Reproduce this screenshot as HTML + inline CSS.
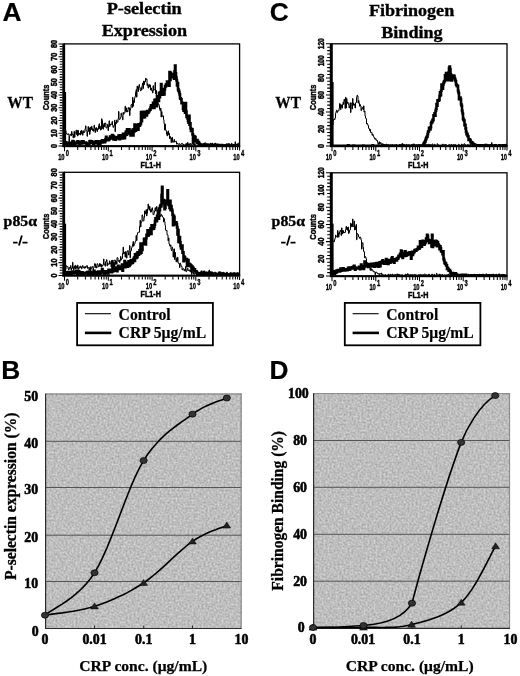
<!DOCTYPE html>
<html><head><meta charset="utf-8"><style>
html,body{margin:0;padding:0;background:#fff;}
svg{display:block;filter:grayscale(1);}
</style></head><body>
<svg width="520" height="676" viewBox="0 0 520 676">
<defs>
<filter id="nz" x="0" y="0" width="100%" height="100%" color-interpolation-filters="sRGB"><feTurbulence type="fractalNoise" baseFrequency="0.5" numOctaves="2" seed="3"/><feColorMatrix type="matrix" values="0.32 0 0 0 0.585  0.32 0 0 0 0.585  0.32 0 0 0 0.585  0 0 0 0 1"/></filter>
</defs>
<rect width="520" height="676" fill="#fff"/>
<text x="2.5" y="20.6" font-family='"Liberation Sans", sans-serif' font-size="26.3" font-weight="bold" text-anchor="start" fill="#000"  stroke="#000" stroke-width="0.2">A</text>
<text x="269.8" y="20.7" font-family='"Liberation Sans", sans-serif' font-size="26.3" font-weight="bold" text-anchor="start" fill="#000"  stroke="#000" stroke-width="0.2">C</text>
<text x="1.3" y="378.6" font-family='"Liberation Sans", sans-serif' font-size="26.3" font-weight="bold" text-anchor="start" fill="#000"  stroke="#000" stroke-width="0.2">B</text>
<text x="269.4" y="378.6" font-family='"Liberation Sans", sans-serif' font-size="26.3" font-weight="bold" text-anchor="start" fill="#000"  stroke="#000" stroke-width="0.2">D</text>
<text x="106.7" y="14.3" font-family='"Liberation Serif", serif' font-size="17.6" font-weight="bold" text-anchor="start" fill="#000"  textLength="75.0" lengthAdjust="spacingAndGlyphs" stroke="#000" stroke-width="0.35">P-selectin</text>
<text x="101.7" y="36.3" font-family='"Liberation Serif", serif' font-size="17.6" font-weight="bold" text-anchor="start" fill="#000"  textLength="85.4" lengthAdjust="spacingAndGlyphs" stroke="#000" stroke-width="0.35">Expression</text>
<text x="368.9" y="15.6" font-family='"Liberation Serif", serif' font-size="17.6" font-weight="bold" text-anchor="start" fill="#000"  textLength="85.3" lengthAdjust="spacingAndGlyphs" stroke="#000" stroke-width="0.35">Fibrinogen</text>
<text x="381.2" y="37.8" font-family='"Liberation Serif", serif' font-size="17.6" font-weight="bold" text-anchor="start" fill="#000"  textLength="61.5" lengthAdjust="spacingAndGlyphs" stroke="#000" stroke-width="0.35">Binding</text>
<text x="7.3" y="107.6" font-family='"Liberation Serif", serif' font-size="17" font-weight="bold" text-anchor="start" fill="#000"  textLength="25.6" lengthAdjust="spacingAndGlyphs" stroke="#000" stroke-width="0.3">WT</text>
<text x="3.6" y="226.2" font-family='"Liberation Serif", serif' font-size="15.3" font-weight="bold" text-anchor="start" fill="#000"  textLength="33.4" lengthAdjust="spacingAndGlyphs" stroke="#000" stroke-width="0.35">p85α</text>
<path d="M13.1,242.6H17.6M22.5,242.6H27.5" stroke="#000" stroke-width="1.6"/>
<path d="M21.9,235.4L18.9,245.5" stroke="#000" stroke-width="1.8"/>
<text x="275.3" y="107.6" font-family='"Liberation Serif", serif' font-size="17" font-weight="bold" text-anchor="start" fill="#000"  textLength="25.6" lengthAdjust="spacingAndGlyphs" stroke="#000" stroke-width="0.3">WT</text>
<text x="271.6" y="226.2" font-family='"Liberation Serif", serif' font-size="15.3" font-weight="bold" text-anchor="start" fill="#000"  textLength="33.4" lengthAdjust="spacingAndGlyphs" stroke="#000" stroke-width="0.35">p85α</text>
<path d="M281.1,242.6H285.6M290.5,242.6H295.5" stroke="#000" stroke-width="1.6"/>
<path d="M289.9,235.4L286.9,245.5" stroke="#000" stroke-width="1.8"/>
<rect x="64.5" y="43.9" width="175.1" height="102.1" fill="none" stroke="#000" stroke-width="1.3"/>
<rect x="62.3" y="43.3" width="2.6" height="103.69999999999999" fill="#000"/>
<rect x="62.5" y="145.2" width="177.7" height="2" fill="#000"/>
<rect x="64.5" y="92" width="1.6" height="54" fill="#000"/>
<path d="M58.5,146.0H62.5M59.7,143.4H62.5M59.7,140.9H62.5M59.7,138.3H62.5M59.7,135.8H62.5M58.5,133.2H62.5M59.7,130.7H62.5M59.7,128.1H62.5M59.7,125.6H62.5M59.7,123.0H62.5M58.5,120.5H62.5M59.7,117.9H62.5M59.7,115.4H62.5M59.7,112.8H62.5M59.7,110.3H62.5M58.5,107.7H62.5M59.7,105.2H62.5M59.7,102.6H62.5M59.7,100.1H62.5M59.7,97.5H62.5M58.5,95.0H62.5M59.7,92.4H62.5M59.7,89.8H62.5M59.7,87.3H62.5M59.7,84.7H62.5M58.5,82.2H62.5M59.7,79.6H62.5M59.7,77.1H62.5M59.7,74.5H62.5M59.7,72.0H62.5M58.5,69.4H62.5M59.7,66.9H62.5M59.7,64.3H62.5M59.7,61.8H62.5M59.7,59.2H62.5M58.5,56.7H62.5M59.7,54.1H62.5M59.7,51.6H62.5M59.7,49.0H62.5M59.7,46.5H62.5M58.5,43.9H62.5" stroke="#000" stroke-width="1.05" fill="none"/>
<text x="0" y="0" transform="translate(57.3,146.0) rotate(-90) scale(0.9,1)" font-family='"Liberation Sans", sans-serif' font-size="8.2" font-weight="bold" text-anchor="middle" fill="#000"  stroke="#000" stroke-width="0.45">0</text>
<text x="0" y="0" transform="translate(57.3,133.2375) rotate(-90) scale(0.9,1)" font-family='"Liberation Sans", sans-serif' font-size="8.2" font-weight="bold" text-anchor="middle" fill="#000"  stroke="#000" stroke-width="0.45">10</text>
<text x="0" y="0" transform="translate(57.3,120.475) rotate(-90) scale(0.9,1)" font-family='"Liberation Sans", sans-serif' font-size="8.2" font-weight="bold" text-anchor="middle" fill="#000"  stroke="#000" stroke-width="0.45">20</text>
<text x="0" y="0" transform="translate(57.3,107.7125) rotate(-90) scale(0.9,1)" font-family='"Liberation Sans", sans-serif' font-size="8.2" font-weight="bold" text-anchor="middle" fill="#000"  stroke="#000" stroke-width="0.45">30</text>
<text x="0" y="0" transform="translate(57.3,94.95) rotate(-90) scale(0.9,1)" font-family='"Liberation Sans", sans-serif' font-size="8.2" font-weight="bold" text-anchor="middle" fill="#000"  stroke="#000" stroke-width="0.45">40</text>
<text x="0" y="0" transform="translate(57.3,82.1875) rotate(-90) scale(0.9,1)" font-family='"Liberation Sans", sans-serif' font-size="8.2" font-weight="bold" text-anchor="middle" fill="#000"  stroke="#000" stroke-width="0.45">50</text>
<text x="0" y="0" transform="translate(57.3,69.42500000000001) rotate(-90) scale(0.9,1)" font-family='"Liberation Sans", sans-serif' font-size="8.2" font-weight="bold" text-anchor="middle" fill="#000"  stroke="#000" stroke-width="0.45">60</text>
<text x="0" y="0" transform="translate(57.3,56.66250000000001) rotate(-90) scale(0.9,1)" font-family='"Liberation Sans", sans-serif' font-size="8.2" font-weight="bold" text-anchor="middle" fill="#000"  stroke="#000" stroke-width="0.45">70</text>
<text x="0" y="0" transform="translate(57.3,43.900000000000006) rotate(-90) scale(0.9,1)" font-family='"Liberation Sans", sans-serif' font-size="8.2" font-weight="bold" text-anchor="middle" fill="#000"  stroke="#000" stroke-width="0.45">80</text>
<path d="M64.5,147v4.2M77.7,147v3.0M85.4,147v3.0M90.9,147v3.0M95.1,147v3.0M98.6,147v3.0M101.5,147v3.0M104.0,147v3.0M106.3,147v3.0M108.3,147v4.2M121.5,147v3.0M129.2,147v3.0M134.6,147v3.0M138.9,147v3.0M142.3,147v3.0M145.3,147v3.0M147.8,147v3.0M150.0,147v3.0M152.1,147v4.2M165.2,147v3.0M172.9,147v3.0M178.4,147v3.0M182.6,147v3.0M186.1,147v3.0M189.0,147v3.0M191.6,147v3.0M193.8,147v3.0M195.8,147v4.2M209.0,147v3.0M216.7,147v3.0M222.2,147v3.0M226.4,147v3.0M229.9,147v3.0M232.8,147v3.0M235.4,147v3.0M237.6,147v3.0M239.6,147v3.6" stroke="#000" stroke-width="1.05" fill="none"/>
<text x="0" y="0" transform="translate(64.6,159.8) rotate(0) scale(0.63,1)" font-family='"Liberation Sans", sans-serif' font-size="9.2" font-weight="bold" text-anchor="end" fill="#000"  stroke="#000" stroke-width="0.35">10</text>
<text x="0" y="0" transform="translate(65.8,155.5) rotate(0) scale(0.66,1)" font-family='"Liberation Sans", sans-serif' font-size="8.8" font-weight="bold" text-anchor="start" fill="#000"  stroke="#000" stroke-width="0.35">0</text>
<text x="0" y="0" transform="translate(108.375,159.8) rotate(0) scale(0.63,1)" font-family='"Liberation Sans", sans-serif' font-size="9.2" font-weight="bold" text-anchor="end" fill="#000"  stroke="#000" stroke-width="0.35">10</text>
<text x="0" y="0" transform="translate(109.575,155.5) rotate(0) scale(0.66,1)" font-family='"Liberation Sans", sans-serif' font-size="8.8" font-weight="bold" text-anchor="start" fill="#000"  stroke="#000" stroke-width="0.35">1</text>
<text x="0" y="0" transform="translate(152.15,159.8) rotate(0) scale(0.63,1)" font-family='"Liberation Sans", sans-serif' font-size="9.2" font-weight="bold" text-anchor="end" fill="#000"  stroke="#000" stroke-width="0.35">10</text>
<text x="0" y="0" transform="translate(153.35000000000002,155.5) rotate(0) scale(0.66,1)" font-family='"Liberation Sans", sans-serif' font-size="8.8" font-weight="bold" text-anchor="start" fill="#000"  stroke="#000" stroke-width="0.35">2</text>
<text x="0" y="0" transform="translate(195.92499999999998,159.8) rotate(0) scale(0.63,1)" font-family='"Liberation Sans", sans-serif' font-size="9.2" font-weight="bold" text-anchor="end" fill="#000"  stroke="#000" stroke-width="0.35">10</text>
<text x="0" y="0" transform="translate(197.125,155.5) rotate(0) scale(0.66,1)" font-family='"Liberation Sans", sans-serif' font-size="8.8" font-weight="bold" text-anchor="start" fill="#000"  stroke="#000" stroke-width="0.35">3</text>
<text x="0" y="0" transform="translate(239.7,159.8) rotate(0) scale(0.63,1)" font-family='"Liberation Sans", sans-serif' font-size="9.2" font-weight="bold" text-anchor="end" fill="#000"  stroke="#000" stroke-width="0.35">10</text>
<text x="0" y="0" transform="translate(240.9,155.5) rotate(0) scale(0.66,1)" font-family='"Liberation Sans", sans-serif' font-size="8.8" font-weight="bold" text-anchor="start" fill="#000"  stroke="#000" stroke-width="0.35">4</text>
<text x="150.75" y="167.7" font-family='"Liberation Sans", sans-serif' font-size="8.2" font-weight="bold" text-anchor="middle" fill="#000"  textLength="20.3" lengthAdjust="spacingAndGlyphs" stroke="#000" stroke-width="0.45">FL1-H</text>
<text x="0" y="0" transform="translate(48.5,97.45) rotate(-90) scale(0.89,1)" font-family='"Liberation Sans", sans-serif' font-size="8.4" font-weight="bold" text-anchor="middle" fill="#000"  stroke="#000" stroke-width="0.4">Counts</text>
<clipPath id="cp1"><rect x="64.5" y="43.9" width="175.1" height="102.1"/></clipPath>
<g clip-path="url(#cp1)">
<path d="M64.5,134.7H65.0V135.4H65.5V130.6H66.0V133.3H66.5V134.0H67.0V134.3H67.5V134.0H68.0V133.8H68.5V134.5H69.0V143.2H69.5V136.2H70.0V134.1H70.5V134.6H71.0V135.7H71.5V131.5H72.0V134.5H72.5V134.0H73.0V137.8H73.5V134.8H74.0V131.3H74.5V137.3H75.0V133.1H75.5V132.7H76.0V130.1H76.5V134.6H77.0V130.5H77.5V136.0H78.0V130.5H78.5V134.5H79.0V133.3H79.5V134.1H80.0V135.0H80.5V131.0H81.0V134.0H81.5V130.3H82.0V131.6H82.5V135.2H83.0V132.8H83.5V130.8H84.0V132.4H84.5V131.8H85.0V128.7H85.5V125.9H86.0V130.6H86.5V130.6H87.0V136.3H87.5V131.5H88.0V126.6H88.5V131.4H89.0V127.8H89.5V134.4H90.0V131.6H90.5V127.2H91.0V129.5H91.5V126.3H92.0V128.4H92.5V130.6H93.0V129.1H93.5V131.3H94.0V125.2H94.5V128.0H95.0V132.5H95.5V128.2H96.0V127.6H96.5V130.0H97.0V131.5H97.5V128.6H98.0V129.3H98.5V126.0H99.0V123.8H99.5V128.6H100.0V126.4H100.5V130.1H101.0V129.4H101.5V118.8H102.0V120.3H102.5V128.4H103.0V129.2H103.5V124.6H104.0V123.2H104.5V126.9H105.0V123.1H105.5V123.4H106.0V128.0H106.5V128.0H107.0V126.8H107.5V124.3H108.0V130.6H108.5V125.9H109.0V120.8H109.5V126.5H110.0V125.2H110.5V124.0H111.0V124.4H111.5V123.8H112.0V121.4H112.5V125.1H113.0V127.4H113.5V126.4H114.0V125.3H114.5V120.2H115.0V131.7H115.5V122.6H116.0V123.6H116.5V120.0H117.0V122.0H117.5V122.2H118.0V118.5H118.5V111.5H119.0V119.3H119.5V119.5H120.0V118.4H120.5V117.4H121.0V113.2H121.5V114.9H122.0V117.2H122.5V119.8H123.0V112.4H123.5V114.3H124.0V112.9H124.5V112.9H125.0V106.3H125.5V111.2H126.0V107.9H126.5V111.8H127.0V110.7H127.5V111.9H128.0V107.7H128.5V108.9H129.0V107.8H129.5V115.5H130.0V110.1H130.5V108.4H131.0V104.7H131.5V104.3H132.0V107.5H132.5V97.4H133.0V106.3H133.5V100.7H134.0V102.4H134.5V98.2H135.0V96.3H135.5V92.2H136.0V89.7H136.5V97.1H137.0V86.1H137.5V88.8H138.0V91.5H138.5V86.6H139.0V84.5H139.5V87.3H140.0V89.8H140.5V90.8H141.0V87.7H141.5V89.9H142.0V85.4H142.5V83.1H143.0V88.5H143.5V81.1H144.0V84.6H144.5V81.3H145.0V81.8H145.5V78.3H146.0V79.4H146.5V78.9H147.0V85.5H147.5V83.8H148.0V88.1H148.5V85.5H149.0V84.5H149.5V87.0H150.0V85.0H150.5V90.0H151.0V88.1H151.5V90.7H152.0V90.6H152.5V92.9H153.0V85.7H153.5V90.4H154.0V89.5H154.5V89.6H155.0V82.4H155.5V93.9H156.0V90.4H156.5V99.3H157.0V98.5H157.5V102.2H158.0V104.2H158.5V104.1H159.0V105.9H159.5V109.1H160.0V110.8H160.5V108.2H161.0V117.0H161.5V111.6H162.0V115.8H162.5V116.4H163.0V115.9H163.5V119.7H164.0V123.6H164.5V130.0H165.0V124.1H165.5V129.8H166.0V131.1H166.5V134.2H167.0V135.9H167.5V132.3H168.0V130.9H168.5V134.8H169.0V133.3H169.5V138.6H170.0V136.6H170.5V138.3H171.0V142.5H171.5V138.0H172.0V137.3H172.5V142.2H173.0V142.2H173.5V141.3H174.0V139.4H174.5V142.1H175.0V141.7H175.5V141.3H176.0V141.3H176.5V144.1H177.0V143.2H177.5V143.9H178.0V144.3H178.5V144.1H179.0V143.6H179.5V144.4H180.0V144.4H180.5V144.6H181.0V144.1H181.5V143.4H182.0V143.5H182.5V144.1H183.0V145.4H183.5V144.4H184.0V145.6H184.5V145.4H185.0V144.2H185.5V144.5H186.0V143.4H186.5V145.5H187.0V145.3H187.5V142.4H188.0V143.8H188.5V145.0H189.0V145.1H189.5V143.7H190.0V144.4H190.5V143.6H191.0V144.7H191.5V144.7H192.0V143.3H192.5V143.7H193.0V144.8H193.5V143.1H194.0V143.5H194.5V145.3H195.0V144.4H195.5V144.4H196.0V142.1H196.5V143.7H197.0V143.1H197.5V143.8H198.0V145.0H198.5V143.4H199.0V143.8H199.5V143.2H200.0V144.5H200.5V143.9H201.0V143.9H201.5V145.7H202.0V143.9H202.5V144.9H203.0V143.5H203.5V144.1H204.0V142.9H204.5V144.9H205.0V142.9H205.5V143.2H206.0V144.4H206.5V144.4H207.0V144.4H207.5V144.2H208.0V143.8H208.5V144.6H209.0V145.0H209.5V145.7H210.0V145.2H210.5V143.2H211.0V144.4H211.5V144.2H212.0V143.1H212.5V144.6H213.0V145.5H213.5V145.0H214.0V144.0H214.5V143.7H215.0V143.1H215.5V144.0H216.0V144.0H216.5V144.6H217.0V144.0H217.5V145.3H218.0V144.4H218.5V144.1H219.0V144.2H219.5V145.3H220.0V145.5H220.5V144.6H221.0V145.7H221.5V145.1H222.0V145.0H222.5V144.6H223.0V144.8H223.5V144.6H224.0V144.7H224.5V145.6H225.0V144.3H225.5V145.4H226.0V145.3H226.5V143.8H227.0V144.6H227.5V144.9H228.0V143.8H228.5V144.4H229.0V143.9H229.5V144.8H230.0V144.6H230.5V144.3H231.0V145.3H231.5V143.3H232.0V145.5H232.5V144.7H233.0V144.5H233.5V145.3H234.0V144.8H234.5V145.7H235.0V141.8H235.5V144.7H236.0V144.4H236.5V144.7H237.0V144.7H237.5V144.0H238.0V143.2H238.5V143.2H239.0V143.1H239.5V145.7" stroke="#000" stroke-width="1" fill="none"/>
<path d="M64.5,143.0H65.0V143.2H65.5V142.2H66.0V143.7H66.5V143.1H67.0V144.7H67.5V143.9H68.0V143.6H68.5V142.7H69.0V144.1H69.5V142.8H70.0V143.7H70.5V144.6H71.0V144.4H71.5V143.9H72.0V142.7H72.5V141.0H73.0V144.0H73.5V141.6H74.0V143.0H74.5V144.4H75.0V143.3H75.5V143.3H76.0V143.4H76.5V143.0H77.0V142.2H77.5V141.2H78.0V143.1H78.5V142.0H79.0V141.7H79.5V143.9H80.0V143.2H80.5V143.2H81.0V142.5H81.5V143.5H82.0V141.3H82.5V143.3H83.0V141.3H83.5V143.2H84.0V142.5H84.5V142.6H85.0V143.1H85.5V142.5H86.0V143.0H86.5V144.6H87.0V143.9H87.5V144.7H88.0V144.4H88.5V143.8H89.0V144.2H89.5V141.2H90.0V141.0H90.5V142.7H91.0V141.8H91.5V141.3H92.0V142.1H92.5V142.1H93.0V144.0H93.5V143.8H94.0V142.7H94.5V143.2H95.0V143.1H95.5V141.7H96.0V141.2H96.5V141.8H97.0V141.4H97.5V141.9H98.0V143.9H98.5V141.5H99.0V143.4H99.5V145.5H100.0V143.5H100.5V141.9H101.0V141.4H101.5V142.0H102.0V140.4H102.5V142.5H103.0V141.7H103.5V140.6H104.0V140.4H104.5V142.3H105.0V141.1H105.5V139.0H106.0V136.7H106.5V139.7H107.0V138.8H107.5V139.3H108.0V140.2H108.5V139.8H109.0V139.3H109.5V138.3H110.0V136.6H110.5V138.0H111.0V138.4H111.5V137.5H112.0V135.0H112.5V135.2H113.0V136.1H113.5V139.5H114.0V136.7H114.5V138.1H115.0V137.9H115.5V139.6H116.0V137.4H116.5V137.8H117.0V137.7H117.5V138.5H118.0V137.1H118.5V135.6H119.0V138.3H119.5V139.1H120.0V135.3H120.5V137.7H121.0V136.4H121.5V136.2H122.0V136.6H122.5V138.5H123.0V133.7H123.5V136.1H124.0V137.5H124.5V138.1H125.0V135.1H125.5V132.7H126.0V131.6H126.5V134.7H127.0V129.2H127.5V133.5H128.0V132.4H128.5V131.7H129.0V129.3H129.5V133.2H130.0V131.4H130.5V135.5H131.0V135.3H131.5V132.1H132.0V133.5H132.5V129.7H133.0V135.4H133.5V129.4H134.0V131.5H134.5V124.6H135.0V129.2H135.5V130.8H136.0V129.3H136.5V126.6H137.0V124.9H137.5V129.7H138.0V129.7H138.5V124.2H139.0V124.5H139.5V125.8H140.0V124.3H140.5V123.5H141.0V112.1H141.5V121.1H142.0V114.1H142.5V111.8H143.0V117.1H143.5V117.4H144.0V115.5H144.5V117.2H145.0V114.6H145.5V111.7H146.0V112.2H146.5V115.5H147.0V111.1H147.5V112.9H148.0V112.6H148.5V111.2H149.0V111.2H149.5V109.6H150.0V109.8H150.5V107.3H151.0V105.4H151.5V108.0H152.0V105.2H152.5V105.6H153.0V102.9H153.5V103.4H154.0V107.9H154.5V100.0H155.0V100.4H155.5V99.6H156.0V103.4H156.5V106.2H157.0V96.3H157.5V98.2H158.0V97.3H158.5V101.0H159.0V92.9H159.5V97.2H160.0V94.1H160.5V92.0H161.0V84.0H161.5V93.4H162.0V93.3H162.5V94.6H163.0V89.0H163.5V91.5H164.0V94.5H164.5V89.1H165.0V86.1H165.5V86.5H166.0V84.3H166.5V84.3H167.0V81.6H167.5V85.0H168.0V85.2H168.5V82.0H169.0V85.8H169.5V72.0H170.0V79.9H170.5V72.9H171.0V77.1H171.5V76.8H172.0V75.0H172.5V74.1H173.0V76.3H173.5V76.0H174.0V78.7H174.5V71.4H175.0V65.6H175.5V73.4H176.0V77.6H176.5V80.5H177.0V85.4H177.5V83.0H178.0V89.4H178.5V90.6H179.0V92.0H179.5V94.2H180.0V98.3H180.5V98.8H181.0V99.2H181.5V103.2H182.0V102.9H182.5V103.2H183.0V108.7H183.5V110.6H184.0V110.8H184.5V107.8H185.0V112.7H185.5V103.1H186.0V111.5H186.5V117.0H187.0V115.7H187.5V118.4H188.0V121.0H188.5V122.6H189.0V115.9H189.5V124.7H190.0V123.4H190.5V128.5H191.0V131.0H191.5V129.0H192.0V129.4H192.5V134.4H193.0V142.3H193.5V136.0H194.0V136.3H194.5V140.1H195.0V137.1H195.5V140.6H196.0V140.8H196.5V141.5H197.0V140.1H197.5V142.3H198.0V141.7H198.5V142.3H199.0V144.0H199.5V143.9H200.0V145.1H200.5V144.9H201.0V145.0H201.5V145.7H202.0V145.4H202.5V145.6H203.0V145.3H203.5V145.7H204.0V145.7H204.5V144.6H205.0V145.4H205.5V145.7H206.0V144.6H206.5V145.3H207.0V145.5H207.5V145.7H208.0V145.1H208.5V145.5H209.0V145.5H209.5V145.3H210.0V144.7H210.5V145.4H211.0V145.7H211.5V145.3H212.0V144.8H212.5V145.4H213.0V145.7H213.5V145.7H214.0V145.7H214.5V145.7H215.0V145.4H215.5V144.8H216.0V145.7H216.5V145.7H217.0V145.3H217.5V145.0H218.0V145.7H218.5V145.2H219.0V145.7H219.5V145.3H220.0V145.7H220.5V145.7H221.0V145.6H221.5V145.1H222.0V145.3H222.5V145.7H223.0V145.7H223.5V145.7H224.0V145.6H224.5V145.7H225.0V145.5H225.5V145.7H226.0V145.6H226.5V145.5H227.0V145.3H227.5V145.7H228.0V144.8H228.5V145.7H229.0V145.7H229.5V145.7H230.0V145.7H230.5V145.7H231.0V145.7H231.5V145.7H232.0V145.7H232.5V145.7H233.0V145.7H233.5V145.5H234.0V145.7H234.5V145.4H235.0V145.7H235.5V145.7H236.0V145.7H236.5V145.3H237.0V145.7H237.5V145.1H238.0V145.7H238.5V145.5H239.0V145.7H239.5V145.7" stroke="#000" stroke-width="2.6" fill="none"/>
</g>
<rect x="64.5" y="172.3" width="175.1" height="103.19999999999999" fill="none" stroke="#000" stroke-width="1.3"/>
<rect x="62.3" y="171.70000000000002" width="2.6" height="104.79999999999998" fill="#000"/>
<rect x="62.5" y="274.7" width="177.7" height="2" fill="#000"/>
<rect x="64.5" y="223.7" width="1.6" height="51.80000000000001" fill="#000"/>
<path d="M58.5,275.5H62.5M59.7,272.9H62.5M59.7,270.3H62.5M59.7,267.8H62.5M59.7,265.2H62.5M58.5,262.6H62.5M59.7,260.0H62.5M59.7,257.4H62.5M59.7,254.9H62.5M59.7,252.3H62.5M58.5,249.7H62.5M59.7,247.1H62.5M59.7,244.5H62.5M59.7,242.0H62.5M59.7,239.4H62.5M58.5,236.8H62.5M59.7,234.2H62.5M59.7,231.6H62.5M59.7,229.1H62.5M59.7,226.5H62.5M58.5,223.9H62.5M59.7,221.3H62.5M59.7,218.7H62.5M59.7,216.2H62.5M59.7,213.6H62.5M58.5,211.0H62.5M59.7,208.4H62.5M59.7,205.8H62.5M59.7,203.3H62.5M59.7,200.7H62.5M58.5,198.1H62.5M59.7,195.5H62.5M59.7,192.9H62.5M59.7,190.4H62.5M59.7,187.8H62.5M58.5,185.2H62.5M59.7,182.6H62.5M59.7,180.0H62.5M59.7,177.5H62.5M59.7,174.9H62.5M58.5,172.3H62.5" stroke="#000" stroke-width="1.05" fill="none"/>
<text x="0" y="0" transform="translate(57.3,275.5) rotate(-90) scale(0.9,1)" font-family='"Liberation Sans", sans-serif' font-size="8.2" font-weight="bold" text-anchor="middle" fill="#000"  stroke="#000" stroke-width="0.45">0</text>
<text x="0" y="0" transform="translate(57.3,262.6) rotate(-90) scale(0.9,1)" font-family='"Liberation Sans", sans-serif' font-size="8.2" font-weight="bold" text-anchor="middle" fill="#000"  stroke="#000" stroke-width="0.45">10</text>
<text x="0" y="0" transform="translate(57.3,249.7) rotate(-90) scale(0.9,1)" font-family='"Liberation Sans", sans-serif' font-size="8.2" font-weight="bold" text-anchor="middle" fill="#000"  stroke="#000" stroke-width="0.45">20</text>
<text x="0" y="0" transform="translate(57.3,236.8) rotate(-90) scale(0.9,1)" font-family='"Liberation Sans", sans-serif' font-size="8.2" font-weight="bold" text-anchor="middle" fill="#000"  stroke="#000" stroke-width="0.45">30</text>
<text x="0" y="0" transform="translate(57.3,223.9) rotate(-90) scale(0.9,1)" font-family='"Liberation Sans", sans-serif' font-size="8.2" font-weight="bold" text-anchor="middle" fill="#000"  stroke="#000" stroke-width="0.45">40</text>
<text x="0" y="0" transform="translate(57.3,211.0) rotate(-90) scale(0.9,1)" font-family='"Liberation Sans", sans-serif' font-size="8.2" font-weight="bold" text-anchor="middle" fill="#000"  stroke="#000" stroke-width="0.45">50</text>
<text x="0" y="0" transform="translate(57.3,198.10000000000002) rotate(-90) scale(0.9,1)" font-family='"Liberation Sans", sans-serif' font-size="8.2" font-weight="bold" text-anchor="middle" fill="#000"  stroke="#000" stroke-width="0.45">60</text>
<text x="0" y="0" transform="translate(57.3,185.20000000000002) rotate(-90) scale(0.9,1)" font-family='"Liberation Sans", sans-serif' font-size="8.2" font-weight="bold" text-anchor="middle" fill="#000"  stroke="#000" stroke-width="0.45">70</text>
<text x="0" y="0" transform="translate(57.3,172.3) rotate(-90) scale(0.9,1)" font-family='"Liberation Sans", sans-serif' font-size="8.2" font-weight="bold" text-anchor="middle" fill="#000"  stroke="#000" stroke-width="0.45">80</text>
<path d="M64.5,276.5v4.2M77.7,276.5v3.0M85.4,276.5v3.0M90.9,276.5v3.0M95.1,276.5v3.0M98.6,276.5v3.0M101.5,276.5v3.0M104.0,276.5v3.0M106.3,276.5v3.0M108.3,276.5v4.2M121.5,276.5v3.0M129.2,276.5v3.0M134.6,276.5v3.0M138.9,276.5v3.0M142.3,276.5v3.0M145.3,276.5v3.0M147.8,276.5v3.0M150.0,276.5v3.0M152.1,276.5v4.2M165.2,276.5v3.0M172.9,276.5v3.0M178.4,276.5v3.0M182.6,276.5v3.0M186.1,276.5v3.0M189.0,276.5v3.0M191.6,276.5v3.0M193.8,276.5v3.0M195.8,276.5v4.2M209.0,276.5v3.0M216.7,276.5v3.0M222.2,276.5v3.0M226.4,276.5v3.0M229.9,276.5v3.0M232.8,276.5v3.0M235.4,276.5v3.0M237.6,276.5v3.0M239.6,276.5v3.6" stroke="#000" stroke-width="1.05" fill="none"/>
<text x="0" y="0" transform="translate(64.6,289.3) rotate(0) scale(0.63,1)" font-family='"Liberation Sans", sans-serif' font-size="9.2" font-weight="bold" text-anchor="end" fill="#000"  stroke="#000" stroke-width="0.35">10</text>
<text x="0" y="0" transform="translate(65.8,285.0) rotate(0) scale(0.66,1)" font-family='"Liberation Sans", sans-serif' font-size="8.8" font-weight="bold" text-anchor="start" fill="#000"  stroke="#000" stroke-width="0.35">0</text>
<text x="0" y="0" transform="translate(108.375,289.3) rotate(0) scale(0.63,1)" font-family='"Liberation Sans", sans-serif' font-size="9.2" font-weight="bold" text-anchor="end" fill="#000"  stroke="#000" stroke-width="0.35">10</text>
<text x="0" y="0" transform="translate(109.575,285.0) rotate(0) scale(0.66,1)" font-family='"Liberation Sans", sans-serif' font-size="8.8" font-weight="bold" text-anchor="start" fill="#000"  stroke="#000" stroke-width="0.35">1</text>
<text x="0" y="0" transform="translate(152.15,289.3) rotate(0) scale(0.63,1)" font-family='"Liberation Sans", sans-serif' font-size="9.2" font-weight="bold" text-anchor="end" fill="#000"  stroke="#000" stroke-width="0.35">10</text>
<text x="0" y="0" transform="translate(153.35000000000002,285.0) rotate(0) scale(0.66,1)" font-family='"Liberation Sans", sans-serif' font-size="8.8" font-weight="bold" text-anchor="start" fill="#000"  stroke="#000" stroke-width="0.35">2</text>
<text x="0" y="0" transform="translate(195.92499999999998,289.3) rotate(0) scale(0.63,1)" font-family='"Liberation Sans", sans-serif' font-size="9.2" font-weight="bold" text-anchor="end" fill="#000"  stroke="#000" stroke-width="0.35">10</text>
<text x="0" y="0" transform="translate(197.125,285.0) rotate(0) scale(0.66,1)" font-family='"Liberation Sans", sans-serif' font-size="8.8" font-weight="bold" text-anchor="start" fill="#000"  stroke="#000" stroke-width="0.35">3</text>
<text x="0" y="0" transform="translate(239.7,289.3) rotate(0) scale(0.63,1)" font-family='"Liberation Sans", sans-serif' font-size="9.2" font-weight="bold" text-anchor="end" fill="#000"  stroke="#000" stroke-width="0.35">10</text>
<text x="0" y="0" transform="translate(240.9,285.0) rotate(0) scale(0.66,1)" font-family='"Liberation Sans", sans-serif' font-size="8.8" font-weight="bold" text-anchor="start" fill="#000"  stroke="#000" stroke-width="0.35">4</text>
<text x="150.75" y="297.2" font-family='"Liberation Sans", sans-serif' font-size="8.2" font-weight="bold" text-anchor="middle" fill="#000"  textLength="20.3" lengthAdjust="spacingAndGlyphs" stroke="#000" stroke-width="0.45">FL1-H</text>
<text x="0" y="0" transform="translate(48.5,226.4) rotate(-90) scale(0.89,1)" font-family='"Liberation Sans", sans-serif' font-size="8.4" font-weight="bold" text-anchor="middle" fill="#000"  stroke="#000" stroke-width="0.4">Counts</text>
<clipPath id="cp2"><rect x="64.5" y="172.3" width="175.1" height="103.19999999999999"/></clipPath>
<g clip-path="url(#cp2)">
<path d="M64.5,275.2H65.0V267.0H65.5V269.3H66.0V265.8H66.5V266.3H67.0V266.7H67.5V266.6H68.0V268.7H68.5V269.9H69.0V267.4H69.5V268.4H70.0V268.1H70.5V265.6H71.0V270.2H71.5V268.0H72.0V268.3H72.5V262.3H73.0V267.6H73.5V270.2H74.0V266.3H74.5V268.2H75.0V265.3H75.5V268.9H76.0V267.8H76.5V266.1H77.0V268.5H77.5V265.1H78.0V268.0H78.5V269.4H79.0V267.0H79.5V267.6H80.0V266.1H80.5V267.5H81.0V266.8H81.5V268.8H82.0V266.9H82.5V265.6H83.0V267.4H83.5V267.0H84.0V268.3H84.5V266.8H85.0V266.7H85.5V268.0H86.0V265.9H86.5V266.2H87.0V265.8H87.5V268.4H88.0V268.0H88.5V267.6H89.0V270.0H89.5V268.1H90.0V266.8H90.5V273.8H91.0V268.5H91.5V267.6H92.0V266.4H92.5V267.2H93.0V271.0H93.5V268.0H94.0V265.9H94.5V263.7H95.0V263.9H95.5V267.6H96.0V266.0H96.5V268.0H97.0V263.7H97.5V264.1H98.0V265.5H98.5V266.8H99.0V266.3H99.5V263.5H100.0V264.0H100.5V266.3H101.0V264.5H101.5V267.1H102.0V265.2H102.5V265.6H103.0V264.7H103.5V259.0H104.0V264.0H104.5V264.5H105.0V266.2H105.5V261.7H106.0V261.6H106.5V259.7H107.0V265.9H107.5V262.8H108.0V264.0H108.5V264.4H109.0V264.0H109.5V260.9H110.0V262.7H110.5V263.9H111.0V267.0H111.5V260.4H112.0V264.4H112.5V260.2H113.0V263.4H113.5V262.7H114.0V260.0H114.5V260.3H115.0V260.3H115.5V264.3H116.0V261.2H116.5V264.1H117.0V257.6H117.5V257.9H118.0V261.2H118.5V261.2H119.0V260.1H119.5V262.4H120.0V260.6H120.5V256.5H121.0V259.9H121.5V258.9H122.0V258.4H122.5V253.3H123.0V247.2H123.5V253.9H124.0V252.2H124.5V253.6H125.0V257.1H125.5V251.6H126.0V253.5H126.5V258.1H127.0V251.2H127.5V250.8H128.0V252.5H128.5V255.0H129.0V249.9H129.5V245.6H130.0V257.9H130.5V251.4H131.0V250.4H131.5V247.9H132.0V246.4H132.5V244.4H133.0V241.5H133.5V246.2H134.0V244.6H134.5V243.8H135.0V241.8H135.5V241.0H136.0V235.6H136.5V240.6H137.0V234.6H137.5V232.8H138.0V232.3H138.5V232.1H139.0V232.2H139.5V226.3H140.0V220.3H140.5V227.0H141.0V222.6H141.5V221.9H142.0V214.9H142.5V216.2H143.0V220.9H143.5V220.9H144.0V217.6H144.5V210.9H145.0V211.5H145.5V213.8H146.0V209.6H146.5V215.9H147.0V213.3H147.5V208.9H148.0V204.0H148.5V208.3H149.0V210.2H149.5V206.3H150.0V209.3H150.5V212.2H151.0V211.9H151.5V209.2H152.0V207.8H152.5V210.2H153.0V214.6H153.5V214.7H154.0V212.7H154.5V211.0H155.0V207.7H155.5V211.0H156.0V209.2H156.5V206.5H157.0V211.7H157.5V214.2H158.0V211.7H158.5V207.8H159.0V215.2H159.5V210.8H160.0V215.5H160.5V216.6H161.0V214.4H161.5V215.6H162.0V215.7H162.5V216.9H163.0V217.5H163.5V221.9H164.0V218.7H164.5V221.7H165.0V225.4H165.5V230.0H166.0V230.8H166.5V230.3H167.0V234.8H167.5V234.9H168.0V240.8H168.5V237.9H169.0V244.0H169.5V245.5H170.0V246.4H170.5V244.9H171.0V249.7H171.5V250.6H172.0V247.2H172.5V248.7H173.0V257.1H173.5V251.3H174.0V248.9H174.5V259.6H175.0V252.5H175.5V256.8H176.0V261.8H176.5V258.6H177.0V261.5H177.5V257.3H178.0V262.9H178.5V263.3H179.0V263.9H179.5V267.7H180.0V263.1H180.5V264.3H181.0V265.9H181.5V266.4H182.0V269.8H182.5V268.9H183.0V268.6H183.5V269.1H184.0V270.8H184.5V269.5H185.0V270.7H185.5V266.7H186.0V271.7H186.5V271.1H187.0V269.4H187.5V268.3H188.0V270.6H188.5V270.2H189.0V270.5H189.5V269.9H190.0V272.0H190.5V270.7H191.0V271.3H191.5V274.3H192.0V272.4H192.5V272.2H193.0V272.5H193.5V274.2H194.0V274.3H194.5V273.3H195.0V273.4H195.5V273.3H196.0V273.2H196.5V272.4H197.0V272.2H197.5V274.7H198.0V273.3H198.5V272.1H199.0V272.3H199.5V273.4H200.0V274.8H200.5V271.8H201.0V270.8H201.5V273.0H202.0V273.1H202.5V273.4H203.0V273.0H203.5V274.1H204.0V271.1H204.5V273.3H205.0V272.5H205.5V272.3H206.0V272.3H206.5V271.9H207.0V273.3H207.5V273.3H208.0V271.7H208.5V273.1H209.0V270.0H209.5V272.0H210.0V271.5H210.5V273.1H211.0V273.5H211.5V271.8H212.0V271.8H212.5V274.5H213.0V273.4H213.5V272.7H214.0V272.8H214.5V272.2H215.0V272.1H215.5V275.0H216.0V272.7H216.5V273.5H217.0V274.7H217.5V274.0H218.0V272.3H218.5V272.9H219.0V272.0H219.5V272.9H220.0V272.4H220.5V272.5H221.0V274.1H221.5V273.7H222.0V272.8H222.5V273.4H223.0V272.2H223.5V272.5H224.0V273.3H224.5V273.6H225.0V274.2H225.5V273.8H226.0V274.3H226.5V272.2H227.0V272.3H227.5V273.0H228.0V273.8H228.5V275.1H229.0V273.4H229.5V273.0H230.0V273.9H230.5V272.4H231.0V274.0H231.5V272.9H232.0V273.1H232.5V273.1H233.0V273.6H233.5V272.7H234.0V272.6H234.5V273.8H235.0V274.0H235.5V273.8H236.0V274.7H236.5V273.1H237.0V272.4H237.5V274.7H238.0V274.0H238.5V272.8H239.0V274.1H239.5V272.7" stroke="#000" stroke-width="1" fill="none"/>
<path d="M64.5,273.7H65.0V274.0H65.5V272.3H66.0V272.5H66.5V274.0H67.0V273.3H67.5V274.0H68.0V272.0H68.5V274.1H69.0V274.1H69.5V272.0H70.0V273.4H70.5V273.7H71.0V274.0H71.5V273.0H72.0V273.4H72.5V271.6H73.0V272.9H73.5V273.4H74.0V272.7H74.5V272.4H75.0V272.3H75.5V272.1H76.0V271.4H76.5V270.9H77.0V273.4H77.5V273.9H78.0V272.0H78.5V271.4H79.0V271.9H79.5V274.0H80.0V272.8H80.5V274.0H81.0V272.8H81.5V273.6H82.0V272.4H82.5V273.6H83.0V272.8H83.5V273.2H84.0V273.9H84.5V273.0H85.0V273.4H85.5V273.4H86.0V273.3H86.5V272.9H87.0V272.1H87.5V272.6H88.0V274.4H88.5V273.6H89.0V271.5H89.5V272.6H90.0V272.5H90.5V273.2H91.0V272.2H91.5V274.7H92.0V272.5H92.5V273.2H93.0V274.2H93.5V272.4H94.0V270.9H94.5V273.4H95.0V272.4H95.5V273.2H96.0V272.8H96.5V273.6H97.0V273.7H97.5V274.6H98.0V271.5H98.5V273.8H99.0V272.4H99.5V274.0H100.0V272.8H100.5V273.5H101.0V271.5H101.5V272.5H102.0V269.1H102.5V271.0H103.0V272.0H103.5V271.7H104.0V274.1H104.5V274.3H105.0V271.4H105.5V273.0H106.0V272.6H106.5V271.6H107.0V271.6H107.5V271.5H108.0V273.4H108.5V269.9H109.0V271.1H109.5V270.0H110.0V270.8H110.5V269.9H111.0V271.6H111.5V272.1H112.0V271.5H112.5V266.5H113.0V271.2H113.5V263.5H114.0V269.2H114.5V270.4H115.0V268.5H115.5V267.6H116.0V270.8H116.5V268.0H117.0V271.1H117.5V267.5H118.0V265.9H118.5V268.3H119.0V268.9H119.5V269.0H120.0V267.3H120.5V267.8H121.0V267.8H121.5V266.1H122.0V264.5H122.5V270.8H123.0V265.9H123.5V266.0H124.0V264.8H124.5V261.0H125.0V267.2H125.5V262.7H126.0V265.5H126.5V264.3H127.0V265.1H127.5V266.8H128.0V265.4H128.5V261.4H129.0V266.0H129.5V262.7H130.0V264.5H130.5V260.7H131.0V260.2H131.5V263.3H132.0V260.5H132.5V262.6H133.0V259.8H133.5V259.0H134.0V257.6H134.5V260.9H135.0V254.4H135.5V254.3H136.0V258.0H136.5V253.9H137.0V257.3H137.5V252.3H138.0V253.5H138.5V254.6H139.0V252.8H139.5V250.2H140.0V253.4H140.5V243.6H141.0V252.6H141.5V249.6H142.0V250.0H142.5V243.5H143.0V243.6H143.5V243.2H144.0V238.8H144.5V242.0H145.0V242.3H145.5V244.4H146.0V238.2H146.5V235.0H147.0V234.5H147.5V230.4H148.0V235.7H148.5V234.7H149.0V231.9H149.5V233.3H150.0V233.8H150.5V228.4H151.0V233.9H151.5V225.2H152.0V227.9H152.5V228.9H153.0V225.6H153.5V228.6H154.0V227.0H154.5V224.7H155.0V221.0H155.5V218.3H156.0V221.2H156.5V221.2H157.0V216.3H157.5V215.1H158.0V210.7H158.5V218.7H159.0V208.8H159.5V210.1H160.0V206.6H160.5V205.0H161.0V206.2H161.5V195.1H162.0V186.8H162.5V203.5H163.0V202.5H163.5V200.0H164.0V202.4H164.5V209.1H165.0V207.7H165.5V200.7H166.0V202.8H166.5V200.7H167.0V200.9H167.5V190.3H168.0V203.4H168.5V204.9H169.0V200.9H169.5V207.9H170.0V200.7H170.5V210.0H171.0V206.1H171.5V209.2H172.0V210.8H172.5V214.6H173.0V225.3H173.5V215.9H174.0V217.1H174.5V224.4H175.0V222.8H175.5V223.2H176.0V222.3H176.5V224.0H177.0V227.5H177.5V234.5H178.0V230.0H178.5V241.9H179.0V239.0H179.5V237.1H180.0V242.4H180.5V245.9H181.0V248.5H181.5V247.4H182.0V245.5H182.5V252.7H183.0V252.3H183.5V261.1H184.0V256.6H184.5V257.3H185.0V260.2H185.5V259.8H186.0V260.2H186.5V259.0H187.0V266.0H187.5V262.0H188.0V260.0H188.5V264.7H189.0V263.9H189.5V265.5H190.0V264.6H190.5V266.2H191.0V265.5H191.5V269.7H192.0V266.5H192.5V270.5H193.0V267.9H193.5V270.0H194.0V271.5H194.5V269.3H195.0V271.4H195.5V271.4H196.0V271.3H196.5V272.1H197.0V273.2H197.5V273.6H198.0V273.3H198.5V274.4H199.0V273.9H199.5V273.7H200.0V274.7H200.5V273.6H201.0V274.5H201.5V274.6H202.0V273.6H202.5V273.5H203.0V273.7H203.5V272.0H204.0V275.2H204.5V273.1H205.0V274.6H205.5V273.8H206.0V275.0H206.5V274.8H207.0V274.1H207.5V274.3H208.0V273.1H208.5V274.0H209.0V273.9H209.5V274.7H210.0V273.0H210.5V275.2H211.0V273.9H211.5V274.5H212.0V274.4H212.5V273.8H213.0V275.2H213.5V274.5H214.0V274.6H214.5V275.1H215.0V274.6H215.5V275.0H216.0V274.6H216.5V275.1H217.0V274.2H217.5V274.2H218.0V275.2H218.5V275.2H219.0V275.2H219.5V272.9H220.0V274.3H220.5V274.9H221.0V274.9H221.5V273.6H222.0V275.2H222.5V275.2H223.0V275.2H223.5V273.8H224.0V274.8H224.5V274.1H225.0V275.2H225.5V275.2H226.0V274.9H226.5V274.4H227.0V274.5H227.5V274.6H228.0V274.7H228.5V275.2H229.0V275.2H229.5V274.5H230.0V275.2H230.5V274.7H231.0V275.1H231.5V274.2H232.0V274.8H232.5V274.9H233.0V275.2H233.5V275.2H234.0V275.2H234.5V273.8H235.0V275.0H235.5V275.2H236.0V275.1H236.5V275.2H237.0V275.2H237.5V275.1H238.0V274.8H238.5V275.2H239.0V274.7H239.5V275.2" stroke="#000" stroke-width="2.6" fill="none"/>
</g>
<rect x="332" y="43.8" width="175" height="102.2" fill="none" stroke="#000" stroke-width="1.3"/>
<rect x="329.8" y="43.199999999999996" width="2.6" height="103.8" fill="#000"/>
<rect x="330" y="145.2" width="177.6" height="2" fill="#000"/>
<rect x="332" y="82" width="1.6" height="64" fill="#000"/>
<path d="M326.0,146.0H330M327.2,142.6H330M327.2,139.2H330M327.2,135.8H330M327.2,132.4H330M326.0,129.0H330M327.2,125.6H330M327.2,122.2H330M327.2,118.7H330M327.2,115.3H330M326.0,111.9H330M327.2,108.5H330M327.2,105.1H330M327.2,101.7H330M327.2,98.3H330M326.0,94.9H330M327.2,91.5H330M327.2,88.1H330M327.2,84.7H330M327.2,81.3H330M326.0,77.9H330M327.2,74.5H330M327.2,71.1H330M327.2,67.6H330M327.2,64.2H330M326.0,60.8H330M327.2,57.4H330M327.2,54.0H330M327.2,50.6H330M327.2,47.2H330M326.0,43.8H330" stroke="#000" stroke-width="1.05" fill="none"/>
<text x="0" y="0" transform="translate(323.8,146.0) rotate(-90) scale(0.9,1)" font-family='"Liberation Sans", sans-serif' font-size="8.2" font-weight="bold" text-anchor="middle" fill="#000"  stroke="#000" stroke-width="0.45">0</text>
<text x="0" y="0" transform="translate(323.8,128.96666666666667) rotate(-90) scale(0.9,1)" font-family='"Liberation Sans", sans-serif' font-size="8.2" font-weight="bold" text-anchor="middle" fill="#000"  stroke="#000" stroke-width="0.45">20</text>
<text x="0" y="0" transform="translate(323.8,111.93333333333334) rotate(-90) scale(0.9,1)" font-family='"Liberation Sans", sans-serif' font-size="8.2" font-weight="bold" text-anchor="middle" fill="#000"  stroke="#000" stroke-width="0.45">40</text>
<text x="0" y="0" transform="translate(323.8,94.9) rotate(-90) scale(0.9,1)" font-family='"Liberation Sans", sans-serif' font-size="8.2" font-weight="bold" text-anchor="middle" fill="#000"  stroke="#000" stroke-width="0.45">60</text>
<text x="0" y="0" transform="translate(323.8,77.86666666666666) rotate(-90) scale(0.9,1)" font-family='"Liberation Sans", sans-serif' font-size="8.2" font-weight="bold" text-anchor="middle" fill="#000"  stroke="#000" stroke-width="0.45">80</text>
<text x="0" y="0" transform="translate(323.8,60.83333333333333) rotate(-90) scale(0.8,1)" font-family='"Liberation Sans", sans-serif' font-size="8.2" font-weight="bold" text-anchor="middle" fill="#000"  stroke="#000" stroke-width="0.45">100</text>
<text x="0" y="0" transform="translate(323.8,43.8) rotate(-90) scale(0.8,1)" font-family='"Liberation Sans", sans-serif' font-size="8.2" font-weight="bold" text-anchor="middle" fill="#000"  stroke="#000" stroke-width="0.45">120</text>
<path d="M332.0,147v4.2M345.2,147v3.0M352.9,147v3.0M358.3,147v3.0M362.6,147v3.0M366.0,147v3.0M369.0,147v3.0M371.5,147v3.0M373.7,147v3.0M375.8,147v4.2M388.9,147v3.0M396.6,147v3.0M402.1,147v3.0M406.3,147v3.0M409.8,147v3.0M412.7,147v3.0M415.3,147v3.0M417.5,147v3.0M419.5,147v4.2M432.7,147v3.0M440.4,147v3.0M445.8,147v3.0M450.1,147v3.0M453.5,147v3.0M456.5,147v3.0M459.0,147v3.0M461.2,147v3.0M463.2,147v4.2M476.4,147v3.0M484.1,147v3.0M489.6,147v3.0M493.8,147v3.0M497.3,147v3.0M500.2,147v3.0M502.8,147v3.0M505.0,147v3.0M507.0,147v3.6" stroke="#000" stroke-width="1.05" fill="none"/>
<text x="0" y="0" transform="translate(332.1,159.8) rotate(0) scale(0.63,1)" font-family='"Liberation Sans", sans-serif' font-size="9.2" font-weight="bold" text-anchor="end" fill="#000"  stroke="#000" stroke-width="0.35">10</text>
<text x="0" y="0" transform="translate(333.3,155.5) rotate(0) scale(0.66,1)" font-family='"Liberation Sans", sans-serif' font-size="8.8" font-weight="bold" text-anchor="start" fill="#000"  stroke="#000" stroke-width="0.35">0</text>
<text x="0" y="0" transform="translate(375.85,159.8) rotate(0) scale(0.63,1)" font-family='"Liberation Sans", sans-serif' font-size="9.2" font-weight="bold" text-anchor="end" fill="#000"  stroke="#000" stroke-width="0.35">10</text>
<text x="0" y="0" transform="translate(377.05,155.5) rotate(0) scale(0.66,1)" font-family='"Liberation Sans", sans-serif' font-size="8.8" font-weight="bold" text-anchor="start" fill="#000"  stroke="#000" stroke-width="0.35">1</text>
<text x="0" y="0" transform="translate(419.6,159.8) rotate(0) scale(0.63,1)" font-family='"Liberation Sans", sans-serif' font-size="9.2" font-weight="bold" text-anchor="end" fill="#000"  stroke="#000" stroke-width="0.35">10</text>
<text x="0" y="0" transform="translate(420.8,155.5) rotate(0) scale(0.66,1)" font-family='"Liberation Sans", sans-serif' font-size="8.8" font-weight="bold" text-anchor="start" fill="#000"  stroke="#000" stroke-width="0.35">2</text>
<text x="0" y="0" transform="translate(463.35,159.8) rotate(0) scale(0.63,1)" font-family='"Liberation Sans", sans-serif' font-size="9.2" font-weight="bold" text-anchor="end" fill="#000"  stroke="#000" stroke-width="0.35">10</text>
<text x="0" y="0" transform="translate(464.55,155.5) rotate(0) scale(0.66,1)" font-family='"Liberation Sans", sans-serif' font-size="8.8" font-weight="bold" text-anchor="start" fill="#000"  stroke="#000" stroke-width="0.35">3</text>
<text x="0" y="0" transform="translate(507.1,159.8) rotate(0) scale(0.63,1)" font-family='"Liberation Sans", sans-serif' font-size="9.2" font-weight="bold" text-anchor="end" fill="#000"  stroke="#000" stroke-width="0.35">10</text>
<text x="0" y="0" transform="translate(508.3,155.5) rotate(0) scale(0.66,1)" font-family='"Liberation Sans", sans-serif' font-size="8.8" font-weight="bold" text-anchor="start" fill="#000"  stroke="#000" stroke-width="0.35">4</text>
<text x="418.2" y="167.7" font-family='"Liberation Sans", sans-serif' font-size="8.2" font-weight="bold" text-anchor="middle" fill="#000"  textLength="20.3" lengthAdjust="spacingAndGlyphs" stroke="#000" stroke-width="0.45">FL1-H</text>
<text x="0" y="0" transform="translate(316,97.4) rotate(-90) scale(0.89,1)" font-family='"Liberation Sans", sans-serif' font-size="8.4" font-weight="bold" text-anchor="middle" fill="#000"  stroke="#000" stroke-width="0.4">Counts</text>
<clipPath id="cp3"><rect x="332" y="43.8" width="175" height="102.2"/></clipPath>
<g clip-path="url(#cp3)">
<path d="M332.0,124.2H332.5V125.2H333.0V120.5H333.5V119.8H334.0V119.0H334.5V119.5H335.0V118.0H335.5V113.3H336.0V111.5H336.5V110.2H337.0V112.4H337.5V111.2H338.0V110.9H338.5V110.8H339.0V108.4H339.5V103.6H340.0V104.2H340.5V109.6H341.0V106.8H341.5V104.9H342.0V108.1H342.5V104.5H343.0V102.2H343.5V104.3H344.0V99.3H344.5V101.0H345.0V108.4H345.5V97.3H346.0V107.9H346.5V98.5H347.0V103.3H347.5V102.0H348.0V103.6H348.5V104.8H349.0V107.9H349.5V106.4H350.0V102.8H350.5V112.5H351.0V103.2H351.5V103.2H352.0V109.0H352.5V98.5H353.0V103.0H353.5V105.2H354.0V104.1H354.5V105.6H355.0V108.0H355.5V103.0H356.0V102.3H356.5V97.3H357.0V95.3H357.5V96.1H358.0V103.1H358.5V100.5H359.0V103.2H359.5V106.2H360.0V104.7H360.5V106.0H361.0V110.6H361.5V109.0H362.0V107.3H362.5V108.4H363.0V109.7H363.5V105.9H364.0V112.1H364.5V111.1H365.0V116.0H365.5V118.1H366.0V118.7H366.5V123.9H367.0V123.5H367.5V124.5H368.0V125.6H368.5V128.3H369.0V128.8H369.5V130.7H370.0V129.5H370.5V132.4H371.0V132.7H371.5V132.4H372.0V135.3H372.5V134.1H373.0V135.3H373.5V136.6H374.0V137.8H374.5V138.9H375.0V139.1H375.5V138.5H376.0V140.3H376.5V140.0H377.0V140.5H377.5V142.4H378.0V144.5H378.5V143.3H379.0V141.8H379.5V144.2H380.0V143.6H380.5V142.5H381.0V143.8H381.5V145.2H382.0V143.8H382.5V143.8H383.0V145.2H383.5V144.1H384.0V145.7H384.5V144.5H385.0V145.2H385.5V145.4H386.0V144.0H386.5V145.6H387.0V145.0H387.5V145.7H388.0V144.8H388.5V145.3H389.0V145.4H389.5V145.7H390.0V145.0H390.5V144.9H391.0V145.4H391.5V145.1H392.0V144.5H392.5V145.5H393.0V145.2H393.5V145.2H394.0V145.7H394.5V144.8H395.0V144.8H395.5V145.4H396.0V144.6H396.5V144.8H397.0V145.4H397.5V145.4H398.0V145.3H398.5V145.1H399.0V145.1H399.5V144.5H400.0V144.6H400.5V145.2H401.0V144.3H401.5V145.4H402.0V143.5H402.5V144.8H403.0V144.1H403.5V145.5H404.0V145.7H404.5V144.5H405.0V145.6H405.5V145.6H406.0V145.2H406.5V144.3H407.0V145.7H407.5V145.4H408.0V145.0H408.5V144.9H409.0V145.5H409.5V144.8H410.0V145.7H410.5V145.7H411.0V145.6H411.5V144.6H412.0V145.1H412.5V144.4H413.0V145.0H413.5V143.9H414.0V144.2H414.5V144.6H415.0V145.0H415.5V145.7H416.0V144.7H416.5V145.4H417.0V145.5H417.5V145.3H418.0V145.0H418.5V144.7H419.0V144.7H419.5V144.5H420.0V145.2H420.5V144.8H421.0V145.5H421.5V144.7H422.0V145.2H422.5V145.4H423.0V144.9H423.5V145.3H424.0V144.8H424.5V145.7H425.0V144.7H425.5V144.6H426.0V144.5H426.5V145.1H427.0V144.6H427.5V145.7H428.0V144.3H428.5V145.1H429.0V145.3H429.5V144.4H430.0V145.3H430.5V144.6H431.0V144.7H431.5V145.1H432.0V144.4H432.5V143.9H433.0V145.1H433.5V145.4H434.0V145.7H434.5V144.2H435.0V144.8H435.5V145.5H436.0V145.7H436.5V145.5H437.0V143.7H437.5V144.6H438.0V144.5H438.5V145.2H439.0V145.5H439.5V144.9H440.0V144.9H440.5V145.7H441.0V145.2H441.5V144.9H442.0V145.1H442.5V144.2H443.0V144.5H443.5V144.3H444.0V145.7H444.5V144.8H445.0V144.5H445.5V145.0H446.0V144.7H446.5V144.9H447.0V145.4H447.5V145.7H448.0V145.2H448.5V144.9H449.0V144.5H449.5V144.6H450.0V144.8H450.5V145.3H451.0V145.0H451.5V144.4H452.0V145.0H452.5V145.7H453.0V144.6H453.5V145.0H454.0V144.8H454.5V145.4H455.0V144.4H455.5V145.7H456.0V145.2H456.5V145.1H457.0V145.1H457.5V145.3H458.0V145.3H458.5V144.3H459.0V144.7H459.5V145.2H460.0V145.1H460.5V145.7H461.0V145.3H461.5V144.0H462.0V144.4H462.5V144.8H463.0V144.8H463.5V144.6H464.0V143.7H464.5V144.5H465.0V144.7H465.5V144.5H466.0V145.4H466.5V145.6H467.0V144.7H467.5V144.6H468.0V145.2H468.5V144.8H469.0V145.4H469.5V145.3H470.0V143.9H470.5V144.7H471.0V144.9H471.5V144.8H472.0V145.7H472.5V144.7H473.0V145.4H473.5V143.9H474.0V145.0H474.5V143.9H475.0V145.3H475.5V145.2H476.0V144.8H476.5V144.4H477.0V144.8H477.5V145.5H478.0V145.4H478.5V145.7H479.0V144.6H479.5V145.4H480.0V145.3H480.5V145.0H481.0V144.7H481.5V145.1H482.0V144.5H482.5V145.2H483.0V145.6H483.5V145.7H484.0V144.5H484.5V145.3H485.0V144.2H485.5V145.3H486.0V145.0H486.5V145.2H487.0V144.7H487.5V144.4H488.0V144.9H488.5V144.6H489.0V145.4H489.5V144.8H490.0V145.3H490.5V144.4H491.0V144.5H491.5V142.6H492.0V145.2H492.5V145.1H493.0V145.7H493.5V145.2H494.0V145.6H494.5V144.9H495.0V145.1H495.5V145.0H496.0V145.2H496.5V144.9H497.0V145.4H497.5V145.3H498.0V145.3H498.5V144.9H499.0V145.3H499.5V144.5H500.0V144.7H500.5V145.2H501.0V145.0H501.5V145.3H502.0V144.9H502.5V144.5H503.0V145.0H503.5V144.9H504.0V144.9H504.5V144.8H505.0V144.4H505.5V144.2H506.0V145.6H506.5V144.5H507.0V145.4" stroke="#000" stroke-width="1" fill="none"/>
<path d="M332.0,145.7H332.5V145.7H333.0V145.7H333.5V145.7H334.0V145.7H334.5V145.7H335.0V145.7H335.5V145.7H336.0V145.7H336.5V145.7H337.0V145.7H337.5V145.7H338.0V145.7H338.5V145.7H339.0V145.7H339.5V145.7H340.0V145.7H340.5V145.7H341.0V145.7H341.5V145.7H342.0V145.7H342.5V145.7H343.0V145.7H343.5V145.7H344.0V145.7H344.5V145.7H345.0V145.7H345.5V145.7H346.0V145.7H346.5V145.7H347.0V145.7H347.5V145.7H348.0V145.3H348.5V145.7H349.0V145.7H349.5V145.7H350.0V145.7H350.5V145.7H351.0V145.7H351.5V145.7H352.0V145.7H352.5V145.7H353.0V145.7H353.5V145.6H354.0V145.7H354.5V145.7H355.0V145.7H355.5V145.7H356.0V145.7H356.5V145.7H357.0V145.7H357.5V145.7H358.0V145.7H358.5V145.7H359.0V145.7H359.5V145.7H360.0V145.7H360.5V145.7H361.0V145.7H361.5V145.7H362.0V145.7H362.5V145.7H363.0V145.6H363.5V145.7H364.0V145.7H364.5V145.7H365.0V145.7H365.5V145.7H366.0V145.7H366.5V145.7H367.0V145.7H367.5V145.7H368.0V145.7H368.5V145.7H369.0V145.7H369.5V145.7H370.0V145.7H370.5V145.7H371.0V145.7H371.5V145.7H372.0V145.7H372.5V145.4H373.0V145.7H373.5V145.7H374.0V145.7H374.5V145.7H375.0V145.7H375.5V145.7H376.0V145.7H376.5V145.7H377.0V145.7H377.5V145.7H378.0V145.7H378.5V145.7H379.0V145.7H379.5V145.7H380.0V145.7H380.5V145.7H381.0V145.7H381.5V145.7H382.0V145.6H382.5V145.7H383.0V145.7H383.5V145.7H384.0V145.7H384.5V145.7H385.0V145.7H385.5V145.7H386.0V145.7H386.5V145.7H387.0V145.7H387.5V145.7H388.0V145.6H388.5V145.7H389.0V145.7H389.5V145.7H390.0V145.7H390.5V145.7H391.0V145.7H391.5V145.7H392.0V145.7H392.5V145.7H393.0V145.7H393.5V145.7H394.0V145.7H394.5V145.7H395.0V145.7H395.5V145.7H396.0V145.7H396.5V145.7H397.0V145.7H397.5V145.7H398.0V145.7H398.5V145.7H399.0V145.7H399.5V145.7H400.0V145.7H400.5V145.7H401.0V145.7H401.5V145.7H402.0V145.7H402.5V145.7H403.0V145.7H403.5V145.7H404.0V145.7H404.5V145.7H405.0V145.7H405.5V145.7H406.0V145.7H406.5V145.7H407.0V145.7H407.5V145.7H408.0V145.7H408.5V145.7H409.0V145.7H409.5V145.7H410.0V145.7H410.5V145.7H411.0V145.7H411.5V145.7H412.0V145.7H412.5V145.7H413.0V145.7H413.5V145.7H414.0V145.7H414.5V145.7H415.0V145.7H415.5V145.7H416.0V145.7H416.5V145.7H417.0V145.7H417.5V145.7H418.0V145.5H418.5V145.7H419.0V145.7H419.5V145.7H420.0V145.7H420.5V145.7H421.0V145.7H421.5V145.7H422.0V145.7H422.5V145.7H423.0V145.6H423.5V143.7H424.0V143.4H424.5V142.2H425.0V141.4H425.5V139.7H426.0V138.4H426.5V137.1H427.0V136.7H427.5V134.1H428.0V131.7H428.5V131.3H429.0V127.9H429.5V128.2H430.0V129.5H430.5V127.3H431.0V123.2H431.5V121.7H432.0V122.2H432.5V119.7H433.0V120.3H433.5V115.2H434.0V115.8H434.5V113.2H435.0V115.6H435.5V110.7H436.0V108.9H436.5V104.1H437.0V105.6H437.5V100.2H438.0V100.3H438.5V100.8H439.0V99.8H439.5V95.9H440.0V92.2H440.5V95.3H441.0V90.6H441.5V84.5H442.0V87.9H442.5V88.6H443.0V84.6H443.5V82.8H444.0V81.5H444.5V81.0H445.0V75.3H445.5V75.8H446.0V73.1H446.5V74.3H447.0V77.8H447.5V79.9H448.0V80.1H448.5V72.5H449.0V68.0H449.5V66.5H450.0V69.3H450.5V74.2H451.0V80.2H451.5V80.4H452.0V77.2H452.5V76.7H453.0V78.3H453.5V75.5H454.0V76.0H454.5V78.3H455.0V79.8H455.5V81.3H456.0V84.4H456.5V85.2H457.0V86.3H457.5V85.8H458.0V90.9H458.5V93.0H459.0V99.3H459.5V99.2H460.0V97.5H460.5V99.0H461.0V104.2H461.5V105.8H462.0V110.9H462.5V113.5H463.0V118.9H463.5V119.7H464.0V120.6H464.5V125.2H465.0V124.7H465.5V128.4H466.0V131.7H466.5V134.3H467.0V133.9H467.5V136.0H468.0V136.5H468.5V139.9H469.0V140.0H469.5V139.2H470.0V140.3H470.5V141.9H471.0V142.4H471.5V142.2H472.0V142.7H472.5V143.5H473.0V143.7H473.5V144.2H474.0V144.3H474.5V145.7H475.0V145.5H475.5V145.1H476.0V145.7H476.5V145.6H477.0V145.7H477.5V145.6H478.0V145.7H478.5V145.4H479.0V145.7H479.5V145.7H480.0V145.3H480.5V145.6H481.0V145.5H481.5V145.6H482.0V145.7H482.5V145.3H483.0V145.7H483.5V145.4H484.0V145.6H484.5V145.7H485.0V145.7H485.5V145.1H486.0V145.6H486.5V145.7H487.0V145.7H487.5V145.7H488.0V145.7H488.5V145.7H489.0V145.7H489.5V145.7H490.0V145.7H490.5V145.7H491.0V145.4H491.5V145.7H492.0V145.7H492.5V145.5H493.0V145.7H493.5V145.5H494.0V145.7H494.5V145.7H495.0V145.4H495.5V145.5H496.0V145.7H496.5V145.7H497.0V145.7H497.5V145.7H498.0V145.7H498.5V145.7H499.0V145.7H499.5V145.3H500.0V145.6H500.5V145.7H501.0V145.7H501.5V145.7H502.0V145.7H502.5V145.5H503.0V145.7H503.5V145.4H504.0V145.7H504.5V145.7H505.0V145.7H505.5V145.7H506.0V145.7H506.5V145.7H507.0V145.7" stroke="#000" stroke-width="2.6" fill="none"/>
</g>
<rect x="332" y="172.8" width="175" height="103.19999999999999" fill="none" stroke="#000" stroke-width="1.3"/>
<rect x="329.8" y="172.20000000000002" width="2.6" height="104.79999999999998" fill="#000"/>
<rect x="330" y="275.2" width="177.6" height="2" fill="#000"/>
<rect x="332" y="223.7" width="1.6" height="52.30000000000001" fill="#000"/>
<path d="M326.0,276.0H330M327.2,272.6H330M327.2,269.1H330M327.2,265.7H330M327.2,262.2H330M326.0,258.8H330M327.2,255.4H330M327.2,251.9H330M327.2,248.5H330M327.2,245.0H330M326.0,241.6H330M327.2,238.2H330M327.2,234.7H330M327.2,231.3H330M327.2,227.8H330M326.0,224.4H330M327.2,221.0H330M327.2,217.5H330M327.2,214.1H330M327.2,210.6H330M326.0,207.2H330M327.2,203.8H330M327.2,200.3H330M327.2,196.9H330M327.2,193.4H330M326.0,190.0H330M327.2,186.6H330M327.2,183.1H330M327.2,179.7H330M327.2,176.2H330M326.0,172.8H330" stroke="#000" stroke-width="1.05" fill="none"/>
<text x="0" y="0" transform="translate(323.8,276.0) rotate(-90) scale(0.9,1)" font-family='"Liberation Sans", sans-serif' font-size="8.2" font-weight="bold" text-anchor="middle" fill="#000"  stroke="#000" stroke-width="0.45">0</text>
<text x="0" y="0" transform="translate(323.8,258.8) rotate(-90) scale(0.9,1)" font-family='"Liberation Sans", sans-serif' font-size="8.2" font-weight="bold" text-anchor="middle" fill="#000"  stroke="#000" stroke-width="0.45">20</text>
<text x="0" y="0" transform="translate(323.8,241.6) rotate(-90) scale(0.9,1)" font-family='"Liberation Sans", sans-serif' font-size="8.2" font-weight="bold" text-anchor="middle" fill="#000"  stroke="#000" stroke-width="0.45">40</text>
<text x="0" y="0" transform="translate(323.8,224.4) rotate(-90) scale(0.9,1)" font-family='"Liberation Sans", sans-serif' font-size="8.2" font-weight="bold" text-anchor="middle" fill="#000"  stroke="#000" stroke-width="0.45">60</text>
<text x="0" y="0" transform="translate(323.8,207.2) rotate(-90) scale(0.9,1)" font-family='"Liberation Sans", sans-serif' font-size="8.2" font-weight="bold" text-anchor="middle" fill="#000"  stroke="#000" stroke-width="0.45">80</text>
<text x="0" y="0" transform="translate(323.8,190.0) rotate(-90) scale(0.8,1)" font-family='"Liberation Sans", sans-serif' font-size="8.2" font-weight="bold" text-anchor="middle" fill="#000"  stroke="#000" stroke-width="0.45">100</text>
<text x="0" y="0" transform="translate(323.8,172.8) rotate(-90) scale(0.8,1)" font-family='"Liberation Sans", sans-serif' font-size="8.2" font-weight="bold" text-anchor="middle" fill="#000"  stroke="#000" stroke-width="0.45">120</text>
<path d="M332.0,277v4.2M345.2,277v3.0M352.9,277v3.0M358.3,277v3.0M362.6,277v3.0M366.0,277v3.0M369.0,277v3.0M371.5,277v3.0M373.7,277v3.0M375.8,277v4.2M388.9,277v3.0M396.6,277v3.0M402.1,277v3.0M406.3,277v3.0M409.8,277v3.0M412.7,277v3.0M415.3,277v3.0M417.5,277v3.0M419.5,277v4.2M432.7,277v3.0M440.4,277v3.0M445.8,277v3.0M450.1,277v3.0M453.5,277v3.0M456.5,277v3.0M459.0,277v3.0M461.2,277v3.0M463.2,277v4.2M476.4,277v3.0M484.1,277v3.0M489.6,277v3.0M493.8,277v3.0M497.3,277v3.0M500.2,277v3.0M502.8,277v3.0M505.0,277v3.0M507.0,277v3.6" stroke="#000" stroke-width="1.05" fill="none"/>
<text x="0" y="0" transform="translate(332.1,289.8) rotate(0) scale(0.63,1)" font-family='"Liberation Sans", sans-serif' font-size="9.2" font-weight="bold" text-anchor="end" fill="#000"  stroke="#000" stroke-width="0.35">10</text>
<text x="0" y="0" transform="translate(333.3,285.5) rotate(0) scale(0.66,1)" font-family='"Liberation Sans", sans-serif' font-size="8.8" font-weight="bold" text-anchor="start" fill="#000"  stroke="#000" stroke-width="0.35">0</text>
<text x="0" y="0" transform="translate(375.85,289.8) rotate(0) scale(0.63,1)" font-family='"Liberation Sans", sans-serif' font-size="9.2" font-weight="bold" text-anchor="end" fill="#000"  stroke="#000" stroke-width="0.35">10</text>
<text x="0" y="0" transform="translate(377.05,285.5) rotate(0) scale(0.66,1)" font-family='"Liberation Sans", sans-serif' font-size="8.8" font-weight="bold" text-anchor="start" fill="#000"  stroke="#000" stroke-width="0.35">1</text>
<text x="0" y="0" transform="translate(419.6,289.8) rotate(0) scale(0.63,1)" font-family='"Liberation Sans", sans-serif' font-size="9.2" font-weight="bold" text-anchor="end" fill="#000"  stroke="#000" stroke-width="0.35">10</text>
<text x="0" y="0" transform="translate(420.8,285.5) rotate(0) scale(0.66,1)" font-family='"Liberation Sans", sans-serif' font-size="8.8" font-weight="bold" text-anchor="start" fill="#000"  stroke="#000" stroke-width="0.35">2</text>
<text x="0" y="0" transform="translate(463.35,289.8) rotate(0) scale(0.63,1)" font-family='"Liberation Sans", sans-serif' font-size="9.2" font-weight="bold" text-anchor="end" fill="#000"  stroke="#000" stroke-width="0.35">10</text>
<text x="0" y="0" transform="translate(464.55,285.5) rotate(0) scale(0.66,1)" font-family='"Liberation Sans", sans-serif' font-size="8.8" font-weight="bold" text-anchor="start" fill="#000"  stroke="#000" stroke-width="0.35">3</text>
<text x="0" y="0" transform="translate(507.1,289.8) rotate(0) scale(0.63,1)" font-family='"Liberation Sans", sans-serif' font-size="9.2" font-weight="bold" text-anchor="end" fill="#000"  stroke="#000" stroke-width="0.35">10</text>
<text x="0" y="0" transform="translate(508.3,285.5) rotate(0) scale(0.66,1)" font-family='"Liberation Sans", sans-serif' font-size="8.8" font-weight="bold" text-anchor="start" fill="#000"  stroke="#000" stroke-width="0.35">4</text>
<text x="418.2" y="297.7" font-family='"Liberation Sans", sans-serif' font-size="8.2" font-weight="bold" text-anchor="middle" fill="#000"  textLength="20.3" lengthAdjust="spacingAndGlyphs" stroke="#000" stroke-width="0.45">FL1-H</text>
<text x="0" y="0" transform="translate(316,226.9) rotate(-90) scale(0.89,1)" font-family='"Liberation Sans", sans-serif' font-size="8.4" font-weight="bold" text-anchor="middle" fill="#000"  stroke="#000" stroke-width="0.4">Counts</text>
<clipPath id="cp4"><rect x="332" y="172.8" width="175" height="103.19999999999999"/></clipPath>
<g clip-path="url(#cp4)">
<path d="M333.0,241.1H333.5V241.3H334.0V241.6H334.5V239.5H335.0V237.8H335.5V235.1H336.0V236.6H336.5V236.6H337.0V237.3H337.5V230.5H338.0V232.8H338.5V237.1H339.0V234.0H339.5V231.9H340.0V230.3H340.5V231.2H341.0V235.4H341.5V227.9H342.0V234.0H342.5V230.4H343.0V230.6H343.5V233.0H344.0V232.2H344.5V232.7H345.0V232.1H345.5V229.7H346.0V226.4H346.5V229.3H347.0V227.5H347.5V230.3H348.0V227.1H348.5V233.5H349.0V232.5H349.5V230.2H350.0V229.8H350.5V223.2H351.0V226.7H351.5V224.1H352.0V226.6H352.5V219.0H353.0V226.6H353.5V226.2H354.0V221.0H354.5V229.9H355.0V226.4H355.5V229.5H356.0V224.4H356.5V239.7H357.0V233.7H357.5V234.0H358.0V234.7H358.5V236.9H359.0V237.1H359.5V238.3H360.0V237.1H360.5V237.9H361.0V240.0H361.5V249.1H362.0V243.1H362.5V242.7H363.0V247.4H363.5V251.6H364.0V251.7H364.5V257.7H365.0V256.6H365.5V257.2H366.0V258.9H366.5V266.6H367.0V263.5H367.5V262.5H368.0V266.2H368.5V264.3H369.0V265.8H369.5V267.3H370.0V270.3H370.5V267.6H371.0V270.4H371.5V269.3H372.0V270.0H372.5V269.9H373.0V271.7H373.5V271.5H374.0V271.7H374.5V271.9H375.0V274.7H375.5V272.3H376.0V272.2H376.5V272.3H377.0V273.3H377.5V273.7H378.0V274.0H378.5V273.8H379.0V274.7H379.5V273.6H380.0V274.0H380.5V273.9H381.0V273.0H381.5V274.7H382.0V274.0H382.5V274.3H383.0V275.0H383.5V275.2H384.0V275.7H384.5V275.0H385.0V274.5H385.5V274.9H386.0V275.1H386.5V275.6H387.0V275.5H387.5V275.4H388.0V274.1H388.5V275.7H389.0V275.2H389.5V274.8H390.0V274.2H390.5V275.4H391.0V275.1H391.5V275.2H392.0V274.0H392.5V274.4H393.0V274.8H393.5V275.6H394.0V274.8H394.5V275.0H395.0V274.5H395.5V275.7H396.0V274.7H396.5V274.4H397.0V273.9H397.5V275.2H398.0V275.2H398.5V274.3H399.0V275.1H399.5V274.5H400.0V275.2H400.5V275.1H401.0V275.4H401.5V274.7H402.0V274.8H402.5V274.9H403.0V275.3H403.5V275.6H404.0V275.1H404.5V275.0H405.0V275.3H405.5V274.2H406.0V274.5H406.5V274.7H407.0V275.1H407.5V273.7H408.0V274.6H408.5V274.3H409.0V274.6H409.5V275.7H410.0V275.6H410.5V274.5H411.0V274.7H411.5V275.6H412.0V274.6H412.5V275.3H413.0V274.9H413.5V275.0H414.0V274.8H414.5V274.4H415.0V274.6H415.5V274.8H416.0V275.7H416.5V274.9H417.0V275.3H417.5V275.2H418.0V275.7H418.5V274.5H419.0V274.6H419.5V275.7H420.0V274.7H420.5V274.4H421.0V274.7H421.5V274.9H422.0V274.8H422.5V275.2H423.0V274.7H423.5V275.7H424.0V274.3H424.5V274.0H425.0V274.3H425.5V274.7H426.0V274.7H426.5V275.0H427.0V275.3H427.5V275.1H428.0V274.4H428.5V275.5H429.0V274.2H429.5V275.3H430.0V275.7H430.5V275.1H431.0V275.5H431.5V274.3H432.0V274.2H432.5V275.1H433.0V275.7H433.5V275.0H434.0V274.3H434.5V275.7H435.0V275.5H435.5V275.4H436.0V274.4H436.5V273.3H437.0V274.7H437.5V274.7H438.0V274.6H438.5V275.7H439.0V275.5H439.5V274.1H440.0V274.6H440.5V274.4H441.0V275.5H441.5V275.0H442.0V274.4H442.5V275.0H443.0V275.1H443.5V275.2H444.0V274.9H444.5V274.8H445.0V275.0H445.5V275.0H446.0V274.9H446.5V274.9H447.0V274.7H447.5V275.0H448.0V275.0H448.5V274.1H449.0V274.9H449.5V274.9H450.0V275.0H450.5V274.0H451.0V275.2H451.5V274.3H452.0V275.7H452.5V275.1H453.0V275.0H453.5V274.5H454.0V274.7H454.5V275.6H455.0V275.4H455.5V275.1H456.0V275.6H456.5V275.6H457.0V275.1H457.5V275.2H458.0V274.5H458.5V274.1H459.0V274.7H459.5V275.5H460.0V275.0H460.5V275.7H461.0V274.8H461.5V275.6H462.0V275.7H462.5V275.4H463.0V275.7H463.5V275.1H464.0V275.4H464.5V275.1H465.0V274.6H465.5V274.7H466.0V275.3H466.5V275.7H467.0V275.2H467.5V275.0H468.0V274.5H468.5V274.2H469.0V275.4H469.5V275.4H470.0V274.5H470.5V275.6H471.0V275.3H471.5V275.1H472.0V274.7H472.5V274.9H473.0V274.5H473.5V275.6H474.0V274.2H474.5V275.7H475.0V275.3H475.5V275.7H476.0V274.9H476.5V275.0H477.0V274.8H477.5V275.2H478.0V274.7H478.5V275.7H479.0V275.2H479.5V274.2H480.0V274.8H480.5V275.6H481.0V275.6H481.5V274.9H482.0V274.5H482.5V274.2H483.0V274.2H483.5V275.7H484.0V275.2H484.5V275.4H485.0V274.8H485.5V274.8H486.0V273.8H486.5V274.7H487.0V274.7H487.5V275.5H488.0V275.2H488.5V274.8H489.0V275.5H489.5V274.6H490.0V274.7H490.5V274.4H491.0V275.1H491.5V274.9H492.0V274.5H492.5V274.3H493.0V274.0H493.5V275.2H494.0V274.8H494.5V275.7H495.0V274.8H495.5V275.5H496.0V275.7H496.5V274.2H497.0V275.5H497.5V275.2H498.0V275.7H498.5V274.0H499.0V275.7H499.5V273.9H500.0V275.4H500.5V275.0H501.0V275.6H501.5V275.4H502.0V274.4H502.5V274.9H503.0V274.8H503.5V275.1H504.0V274.8H504.5V275.4H505.0V275.7H505.5V275.5H506.0V275.5H506.5V275.7H507.0V274.8" stroke="#000" stroke-width="1" fill="none"/>
<path d="M333.0,273.5H333.5V271.5H334.0V271.2H334.5V273.8H335.0V272.3H335.5V272.8H336.0V270.7H336.5V272.2H337.0V270.5H337.5V271.4H338.0V270.0H338.5V271.2H339.0V271.0H339.5V271.4H340.0V270.8H340.5V268.6H341.0V270.8H341.5V269.6H342.0V270.0H342.5V269.5H343.0V268.3H343.5V269.1H344.0V270.4H344.5V270.4H345.0V269.6H345.5V269.7H346.0V269.3H346.5V269.2H347.0V270.3H347.5V269.6H348.0V267.8H348.5V268.5H349.0V269.6H349.5V267.5H350.0V269.3H350.5V267.6H351.0V268.4H351.5V268.4H352.0V267.4H352.5V268.5H353.0V266.8H353.5V267.3H354.0V265.9H354.5V267.2H355.0V269.7H355.5V268.2H356.0V267.7H356.5V268.5H357.0V267.9H357.5V268.5H358.0V267.7H358.5V267.9H359.0V266.7H359.5V267.2H360.0V269.2H360.5V268.1H361.0V264.5H361.5V266.1H362.0V267.1H362.5V267.8H363.0V266.3H363.5V268.9H364.0V266.9H364.5V261.5H365.0V264.1H365.5V265.7H366.0V266.3H366.5V265.8H367.0V266.2H367.5V264.8H368.0V266.9H368.5V265.7H369.0V264.4H369.5V265.4H370.0V265.7H370.5V265.4H371.0V263.9H371.5V265.4H372.0V266.4H372.5V264.3H373.0V265.4H373.5V265.8H374.0V263.5H374.5V266.7H375.0V264.2H375.5V266.3H376.0V263.2H376.5V263.1H377.0V264.2H377.5V263.0H378.0V263.0H378.5V266.7H379.0V264.9H379.5V262.4H380.0V266.2H380.5V262.8H381.0V262.0H381.5V262.1H382.0V261.2H382.5V260.4H383.0V263.1H383.5V262.2H384.0V263.6H384.5V261.5H385.0V261.6H385.5V262.0H386.0V259.1H386.5V259.7H387.0V263.7H387.5V260.2H388.0V264.0H388.5V260.7H389.0V260.4H389.5V260.1H390.0V262.7H390.5V261.6H391.0V261.5H391.5V258.5H392.0V257.4H392.5V260.4H393.0V259.5H393.5V260.4H394.0V262.7H394.5V260.2H395.0V259.5H395.5V259.1H396.0V260.4H396.5V260.4H397.0V258.1H397.5V258.8H398.0V258.2H398.5V255.7H399.0V256.5H399.5V256.3H400.0V253.7H400.5V253.9H401.0V250.6H401.5V251.2H402.0V255.7H402.5V258.0H403.0V253.3H403.5V254.0H404.0V254.0H404.5V256.0H405.0V251.2H405.5V254.5H406.0V255.8H406.5V252.8H407.0V255.0H407.5V253.5H408.0V254.5H408.5V253.5H409.0V253.8H409.5V252.3H410.0V253.5H410.5V254.3H411.0V258.6H411.5V252.5H412.0V251.8H412.5V255.0H413.0V252.5H413.5V252.9H414.0V251.7H414.5V250.2H415.0V249.7H415.5V250.6H416.0V250.4H416.5V249.5H417.0V249.5H417.5V249.0H418.0V246.7H418.5V247.1H419.0V248.6H419.5V247.7H420.0V241.3H420.5V244.0H421.0V244.6H421.5V246.7H422.0V243.5H422.5V240.9H423.0V243.1H423.5V242.8H424.0V244.8H424.5V243.2H425.0V242.9H425.5V241.3H426.0V238.9H426.5V238.4H427.0V234.9H427.5V235.9H428.0V239.7H428.5V240.9H429.0V242.9H429.5V241.3H430.0V242.1H430.5V240.3H431.0V242.3H431.5V246.5H432.0V234.8H432.5V246.9H433.0V242.4H433.5V243.5H434.0V242.5H434.5V245.2H435.0V241.2H435.5V240.8H436.0V243.0H436.5V241.3H437.0V246.2H437.5V242.2H438.0V244.2H438.5V245.5H439.0V245.9H439.5V249.3H440.0V246.2H440.5V248.3H441.0V251.2H441.5V251.4H442.0V251.7H442.5V254.3H443.0V251.2H443.5V258.9H444.0V260.5H444.5V262.6H445.0V263.6H445.5V263.0H446.0V265.1H446.5V265.4H447.0V269.0H447.5V267.7H448.0V269.0H448.5V270.5H449.0V270.6H449.5V270.0H450.0V271.3H450.5V272.9H451.0V273.1H451.5V274.0H452.0V274.0H452.5V273.1H453.0V274.7H453.5V273.9H454.0V274.6H454.5V274.3H455.0V274.4H455.5V273.3H456.0V274.3H456.5V275.4H457.0V275.4H457.5V275.7H458.0V275.6H458.5V275.7H459.0V275.4H459.5V275.0H460.0V275.7H460.5V275.0H461.0V275.5H461.5V275.7H462.0V274.9H462.5V275.1H463.0V275.4H463.5V275.4H464.0V275.6H464.5V275.7H465.0V275.3H465.5V274.8H466.0V275.6H466.5V275.7H467.0V275.5H467.5V275.7H468.0V275.7H468.5V275.7H469.0V275.5H469.5V275.7H470.0V275.6H470.5V275.7H471.0V275.5H471.5V275.5H472.0V275.3H472.5V275.7H473.0V275.5H473.5V275.7H474.0V275.4H474.5V275.6H475.0V275.7H475.5V275.4H476.0V275.5H476.5V275.7H477.0V275.7H477.5V275.6H478.0V275.7H478.5V275.4H479.0V275.7H479.5V275.4H480.0V275.7H480.5V275.6H481.0V275.2H481.5V275.7H482.0V275.5H482.5V275.7H483.0V275.7H483.5V275.7H484.0V275.7H484.5V275.7H485.0V275.5H485.5V275.7H486.0V275.7H486.5V275.7H487.0V275.7H487.5V275.7H488.0V275.7H488.5V275.2H489.0V275.7H489.5V275.5H490.0V275.7H490.5V275.7H491.0V275.7H491.5V275.5H492.0V275.6H492.5V275.7H493.0V275.7H493.5V275.7H494.0V275.7H494.5V275.6H495.0V275.7H495.5V275.7H496.0V275.7H496.5V275.7H497.0V275.7H497.5V275.7H498.0V275.7H498.5V275.7H499.0V275.7H499.5V275.7H500.0V275.7H500.5V275.7H501.0V275.7H501.5V275.7H502.0V275.7H502.5V275.3H503.0V275.7H503.5V275.6H504.0V275.6H504.5V275.7H505.0V275.7H505.5V275.7H506.0V275.7H506.5V275.7H507.0V275.7" stroke="#000" stroke-width="2.6" fill="none"/>
</g>
<rect x="77.1" y="302.9" width="135.8" height="42.4" fill="none" stroke="#000" stroke-width="1.8"/>
<path d="M84.89999999999999,313.7h26" stroke="#000" stroke-width="1.1"/>
<path d="M84.89999999999999,332.9h26.4" stroke="#000" stroke-width="2.6"/>
<text x="118.6" y="320.0" font-family='"Liberation Serif", serif' font-size="16.3" font-weight="bold" text-anchor="start" fill="#000"  textLength="52" lengthAdjust="spacingAndGlyphs" stroke="#000" stroke-width="0.2">Control</text>
<text x="118.6" y="337.8" font-family='"Liberation Serif", serif' font-size="16.3" font-weight="bold" text-anchor="start" fill="#000"  textLength="87.5" lengthAdjust="spacingAndGlyphs" stroke="#000" stroke-width="0.2">CRP 5μg/mL</text>
<rect x="344.8" y="302.9" width="135.6" height="42.4" fill="none" stroke="#000" stroke-width="1.8"/>
<path d="M352.6,313.7h26" stroke="#000" stroke-width="1.1"/>
<path d="M352.6,332.9h26.4" stroke="#000" stroke-width="2.6"/>
<text x="386.3" y="320.0" font-family='"Liberation Serif", serif' font-size="16.3" font-weight="bold" text-anchor="start" fill="#000"  textLength="52" lengthAdjust="spacingAndGlyphs" stroke="#000" stroke-width="0.2">Control</text>
<text x="386.3" y="337.8" font-family='"Liberation Serif", serif' font-size="16.3" font-weight="bold" text-anchor="start" fill="#000"  textLength="87.5" lengthAdjust="spacingAndGlyphs" stroke="#000" stroke-width="0.2">CRP 5μg/mL</text>
<rect x="45" y="393.75" width="196.5" height="234.75" fill="#bcbcbc"/>
<rect x="45" y="393.75" width="196.5" height="234.75" filter="url(#nz)"/>
<path d="M45,441.3H241.5" stroke="#555" stroke-width="1"/>
<path d="M45,487.5H241.5" stroke="#555" stroke-width="1"/>
<path d="M45,535.2H241.5" stroke="#555" stroke-width="1"/>
<path d="M45,581.5H241.5" stroke="#555" stroke-width="1"/>
<path d="M45,394.15H241.5" stroke="#808080" stroke-width="0.9"/>
<path d="M241.1,393.75V628.5" stroke="#808080" stroke-width="0.9"/>
<path d="M45.6,393.75V628.5H241.5" stroke="#2a2a2a" stroke-width="1.2" fill="none"/>
<text x="0" y="0" transform="translate(38.2,400.6) rotate(0) scale(1.02,1)" font-family='"Liberation Serif", serif' font-size="13.6" font-weight="bold" text-anchor="end" fill="#000"  stroke="#000" stroke-width="0.55">50</text>
<text x="0" y="0" transform="translate(38.2,447.6) rotate(0) scale(1.02,1)" font-family='"Liberation Serif", serif' font-size="13.6" font-weight="bold" text-anchor="end" fill="#000"  stroke="#000" stroke-width="0.55">40</text>
<text x="0" y="0" transform="translate(38.2,494) rotate(0) scale(1.02,1)" font-family='"Liberation Serif", serif' font-size="13.6" font-weight="bold" text-anchor="end" fill="#000"  stroke="#000" stroke-width="0.55">30</text>
<text x="0" y="0" transform="translate(38.2,541.8) rotate(0) scale(1.02,1)" font-family='"Liberation Serif", serif' font-size="13.6" font-weight="bold" text-anchor="end" fill="#000"  stroke="#000" stroke-width="0.55">20</text>
<text x="0" y="0" transform="translate(38.2,588) rotate(0) scale(1.02,1)" font-family='"Liberation Serif", serif' font-size="13.6" font-weight="bold" text-anchor="end" fill="#000"  stroke="#000" stroke-width="0.55">10</text>
<text x="0" y="0" transform="translate(38.8,636) rotate(0) scale(1.02,1)" font-family='"Liberation Serif", serif' font-size="13.6" font-weight="bold" text-anchor="end" fill="#000"  stroke="#000" stroke-width="0.55">0</text>
<text x="0" y="0" transform="translate(45,643.6) rotate(0) scale(1.02,1)" font-family='"Liberation Serif", serif' font-size="13.6" font-weight="bold" text-anchor="middle" fill="#000"  stroke="#000" stroke-width="0.55">0</text>
<text x="0" y="0" transform="translate(94.5,643.6) rotate(0) scale(1.02,1)" font-family='"Liberation Serif", serif' font-size="13.6" font-weight="bold" text-anchor="middle" fill="#000"  stroke="#000" stroke-width="0.55">0.01</text>
<path d="M94.5,628.5v-3" stroke="#2a2a2a" stroke-width="1"/>
<text x="0" y="0" transform="translate(143.75,643.6) rotate(0) scale(1.02,1)" font-family='"Liberation Serif", serif' font-size="13.6" font-weight="bold" text-anchor="middle" fill="#000"  stroke="#000" stroke-width="0.55">0.1</text>
<path d="M143.75,628.5v-3" stroke="#2a2a2a" stroke-width="1"/>
<text x="0" y="0" transform="translate(192.5,643.6) rotate(0) scale(1.02,1)" font-family='"Liberation Serif", serif' font-size="13.6" font-weight="bold" text-anchor="middle" fill="#000"  stroke="#000" stroke-width="0.55">1</text>
<path d="M192.5,628.5v-3" stroke="#2a2a2a" stroke-width="1"/>
<text x="0" y="0" transform="translate(241.5,643.6) rotate(0) scale(1.02,1)" font-family='"Liberation Serif", serif' font-size="13.6" font-weight="bold" text-anchor="middle" fill="#000"  stroke="#000" stroke-width="0.55">10</text>
<path d="M45.0,615.2 L47.4,613.4 L50.4,611.4 L53.9,609.2 L57.8,606.8 L62.1,604.1 L66.7,601.0 L71.4,597.6 L76.2,593.7 L81.0,589.3 L85.7,584.4 L90.2,578.9 L94.5,572.8 L98.6,565.7 L102.7,557.4 L106.8,548.1 L110.9,538.1 L115.0,527.7 L119.1,517.0 L123.2,506.2 L127.3,495.7 L131.3,485.7 L135.4,476.3 L139.5,467.9 L143.6,460.6 L147.7,454.3 L151.9,448.7 L156.2,443.7 L160.5,439.1 L164.7,435.1 L169.0,431.4 L173.2,428.1 L177.3,425.0 L181.3,422.1 L185.2,419.4 L188.9,416.8 L192.5,414.2 L196.0,411.7 L199.5,409.6 L202.9,407.6 L206.3,406.0 L209.6,404.5 L212.7,403.2 L215.7,402.1 L218.4,401.1 L221.0,400.2 L223.2,399.4 L225.2,398.7 L226.8,398.0" stroke="#000" stroke-width="1.6" fill="none"/>
<path d="M45.0,615.2 L47.4,614.8 L50.4,614.4 L53.9,613.9 L57.8,613.4 L62.1,612.9 L66.7,612.2 L71.4,611.5 L76.2,610.7 L81.0,609.8 L85.7,608.7 L90.2,607.6 L94.5,606.3 L98.6,604.9 L102.7,603.4 L106.8,601.9 L110.9,600.2 L115.0,598.5 L119.1,596.6 L123.2,594.7 L127.3,592.6 L131.3,590.4 L135.4,588.0 L139.5,585.5 L143.6,582.9 L147.7,580.0 L151.9,576.7 L156.2,573.2 L160.5,569.4 L164.7,565.6 L169.0,561.6 L173.2,557.7 L177.3,553.9 L181.3,550.3 L185.2,547.0 L188.9,543.9 L192.5,541.3 L196.0,539.0 L199.5,537.0 L202.9,535.2 L206.3,533.5 L209.6,532.1 L212.7,530.8 L215.7,529.7 L218.4,528.6 L221.0,527.7 L223.2,526.9 L225.2,526.2 L226.8,525.5" stroke="#000" stroke-width="1.6" fill="none"/>
<path d="M90.6,608.9L94.5,602.9L98.4,608.9Z" fill="#222" stroke="#000" stroke-width="0.5"/>
<path d="M139.7,585.5L143.6,579.5L147.5,585.5Z" fill="#222" stroke="#000" stroke-width="0.5"/>
<path d="M188.6,543.9L192.5,537.9L196.4,543.9Z" fill="#222" stroke="#000" stroke-width="0.5"/>
<path d="M222.9,528.1L226.8,522.1L230.70000000000002,528.1Z" fill="#222" stroke="#000" stroke-width="0.5"/>
<ellipse cx="45" cy="615.2" rx="3.6" ry="3.0" fill="#333" stroke="#000" stroke-width="0.7"/>
<ellipse cx="94.5" cy="572.8" rx="3.6" ry="3.0" fill="#333" stroke="#000" stroke-width="0.7"/>
<ellipse cx="143.6" cy="460.6" rx="3.6" ry="3.0" fill="#333" stroke="#000" stroke-width="0.7"/>
<ellipse cx="192.5" cy="414.2" rx="3.6" ry="3.0" fill="#333" stroke="#000" stroke-width="0.7"/>
<ellipse cx="226.8" cy="398" rx="3.6" ry="3.0" fill="#333" stroke="#000" stroke-width="0.7"/>
<text x="0" y="0" transform="translate(15.5,496.3) rotate(-90) scale(0.962,1)" font-family='"Liberation Serif", serif' font-size="16.2" font-weight="bold" text-anchor="middle" fill="#000"  stroke="#000" stroke-width="0.3">P-selectin expression (%)</text>
<text x="143.3" y="671.2" font-family='"Liberation Serif", serif' font-size="15.6" font-weight="bold" text-anchor="middle" fill="#000"  stroke="#000" stroke-width="0.25">CRP conc. (μg/mL)</text>
<rect x="313" y="393.25" width="197" height="235.14999999999998" fill="#bcbcbc"/>
<rect x="313" y="393.25" width="197" height="235.14999999999998" filter="url(#nz)"/>
<path d="M313,440.5H510" stroke="#555" stroke-width="1"/>
<path d="M313,487.3H510" stroke="#555" stroke-width="1"/>
<path d="M313,534.3H510" stroke="#555" stroke-width="1"/>
<path d="M313,581.2H510" stroke="#555" stroke-width="1"/>
<path d="M313,393.65H510" stroke="#808080" stroke-width="0.9"/>
<path d="M509.6,393.25V628.4" stroke="#808080" stroke-width="0.9"/>
<path d="M313.6,393.25V628.4H510" stroke="#2a2a2a" stroke-width="1.2" fill="none"/>
<text x="0" y="0" transform="translate(308.8,398.1) rotate(0) scale(1.02,1)" font-family='"Liberation Serif", serif' font-size="13.6" font-weight="bold" text-anchor="end" fill="#000"  stroke="#000" stroke-width="0.55">100</text>
<text x="0" y="0" transform="translate(307,445) rotate(0) scale(1.02,1)" font-family='"Liberation Serif", serif' font-size="13.6" font-weight="bold" text-anchor="end" fill="#000"  stroke="#000" stroke-width="0.55">80</text>
<text x="0" y="0" transform="translate(307,492) rotate(0) scale(1.02,1)" font-family='"Liberation Serif", serif' font-size="13.6" font-weight="bold" text-anchor="end" fill="#000"  stroke="#000" stroke-width="0.55">60</text>
<text x="0" y="0" transform="translate(307,539) rotate(0) scale(1.02,1)" font-family='"Liberation Serif", serif' font-size="13.6" font-weight="bold" text-anchor="end" fill="#000"  stroke="#000" stroke-width="0.55">40</text>
<text x="0" y="0" transform="translate(307,585.9) rotate(0) scale(1.02,1)" font-family='"Liberation Serif", serif' font-size="13.6" font-weight="bold" text-anchor="end" fill="#000"  stroke="#000" stroke-width="0.55">20</text>
<text x="0" y="0" transform="translate(304.6,632.4) rotate(0) scale(1.02,1)" font-family='"Liberation Serif", serif' font-size="13.6" font-weight="bold" text-anchor="end" fill="#000"  stroke="#000" stroke-width="0.55">0</text>
<text x="0" y="0" transform="translate(313,643.6) rotate(0) scale(1.02,1)" font-family='"Liberation Serif", serif' font-size="13.6" font-weight="bold" text-anchor="middle" fill="#000"  stroke="#000" stroke-width="0.55">0</text>
<text x="0" y="0" transform="translate(363,643.6) rotate(0) scale(1.02,1)" font-family='"Liberation Serif", serif' font-size="13.6" font-weight="bold" text-anchor="middle" fill="#000"  stroke="#000" stroke-width="0.55">0.01</text>
<path d="M363,628.4v-3" stroke="#2a2a2a" stroke-width="1"/>
<text x="0" y="0" transform="translate(412,643.6) rotate(0) scale(1.02,1)" font-family='"Liberation Serif", serif' font-size="13.6" font-weight="bold" text-anchor="middle" fill="#000"  stroke="#000" stroke-width="0.55">0.1</text>
<path d="M412,628.4v-3" stroke="#2a2a2a" stroke-width="1"/>
<text x="0" y="0" transform="translate(461.25,643.6) rotate(0) scale(1.02,1)" font-family='"Liberation Serif", serif' font-size="13.6" font-weight="bold" text-anchor="middle" fill="#000"  stroke="#000" stroke-width="0.55">1</text>
<path d="M461.25,628.4v-3" stroke="#2a2a2a" stroke-width="1"/>
<text x="0" y="0" transform="translate(510.5,643.6) rotate(0) scale(1.02,1)" font-family='"Liberation Serif", serif' font-size="13.6" font-weight="bold" text-anchor="middle" fill="#000"  stroke="#000" stroke-width="0.55">10</text>
<path d="M313,627.5 C330,627.4 350,626.6 363.5,625.5 C382,624.3 402,620 412,603.2 C418,580 443,490 461.2,442.4 C465.8,430.5 479,405 495.2,395.6" stroke="#000" stroke-width="1.6" fill="none"/>
<path d="M313.0,627.5 L315.4,627.5 L318.5,627.5 L322.1,627.6 L326.2,627.6 L330.6,627.6 L335.2,627.7 L340.1,627.7 L345.0,627.7 L349.9,627.7 L354.6,627.7 L359.2,627.6 L363.5,627.5 L367.6,627.4 L371.6,627.4 L375.7,627.4 L379.7,627.5 L383.6,627.5 L387.6,627.4 L391.6,627.3 L395.5,627.1 L399.5,626.7 L403.5,626.2 L407.5,625.5 L411.6,624.6 L415.7,623.5 L420.0,622.4 L424.3,621.2 L428.6,620.0 L432.9,618.5 L437.3,616.9 L441.5,615.2 L445.7,613.2 L449.8,611.0 L453.8,608.5 L457.6,605.7 L461.2,602.6 L464.7,598.9 L468.2,594.5 L471.7,589.6 L475.1,584.3 L478.4,578.7 L481.5,573.0 L484.5,567.4 L487.2,562.1 L489.8,557.1 L492.0,552.7 L494.0,549.0 L495.6,546.2" stroke="#000" stroke-width="1.6" fill="none"/>
<path d="M309.1,630.1L313,624.1L316.9,630.1Z" fill="#222" stroke="#000" stroke-width="0.5"/>
<path d="M359.6,630.1L363.5,624.1L367.4,630.1Z" fill="#222" stroke="#000" stroke-width="0.5"/>
<path d="M407.70000000000005,627.2L411.6,621.2L415.5,627.2Z" fill="#222" stroke="#000" stroke-width="0.5"/>
<path d="M457.3,605.2L461.2,599.2L465.09999999999997,605.2Z" fill="#222" stroke="#000" stroke-width="0.5"/>
<path d="M491.70000000000005,548.8000000000001L495.6,542.8000000000001L499.5,548.8000000000001Z" fill="#222" stroke="#000" stroke-width="0.5"/>
<ellipse cx="313" cy="627.5" rx="3.6" ry="3.0" fill="#333" stroke="#000" stroke-width="0.7"/>
<ellipse cx="363.5" cy="625.5" rx="3.6" ry="3.0" fill="#333" stroke="#000" stroke-width="0.7"/>
<ellipse cx="412" cy="603.2" rx="3.6" ry="3.0" fill="#333" stroke="#000" stroke-width="0.7"/>
<ellipse cx="461.2" cy="442.4" rx="3.6" ry="3.0" fill="#333" stroke="#000" stroke-width="0.7"/>
<ellipse cx="495.2" cy="395.6" rx="3.6" ry="3.0" fill="#333" stroke="#000" stroke-width="0.7"/>
<text x="0" y="0" transform="translate(283,510.8) rotate(-90) scale(0.96,1)" font-family='"Liberation Serif", serif' font-size="16.2" font-weight="bold" text-anchor="middle" fill="#000"  stroke="#000" stroke-width="0.3">Fibrinogen Binding (%)</text>
<text x="409.7" y="671.2" font-family='"Liberation Serif", serif' font-size="15.6" font-weight="bold" text-anchor="middle" fill="#000"  stroke="#000" stroke-width="0.25">CRP conc. (μg/mL)</text>
</svg>
</body></html>
